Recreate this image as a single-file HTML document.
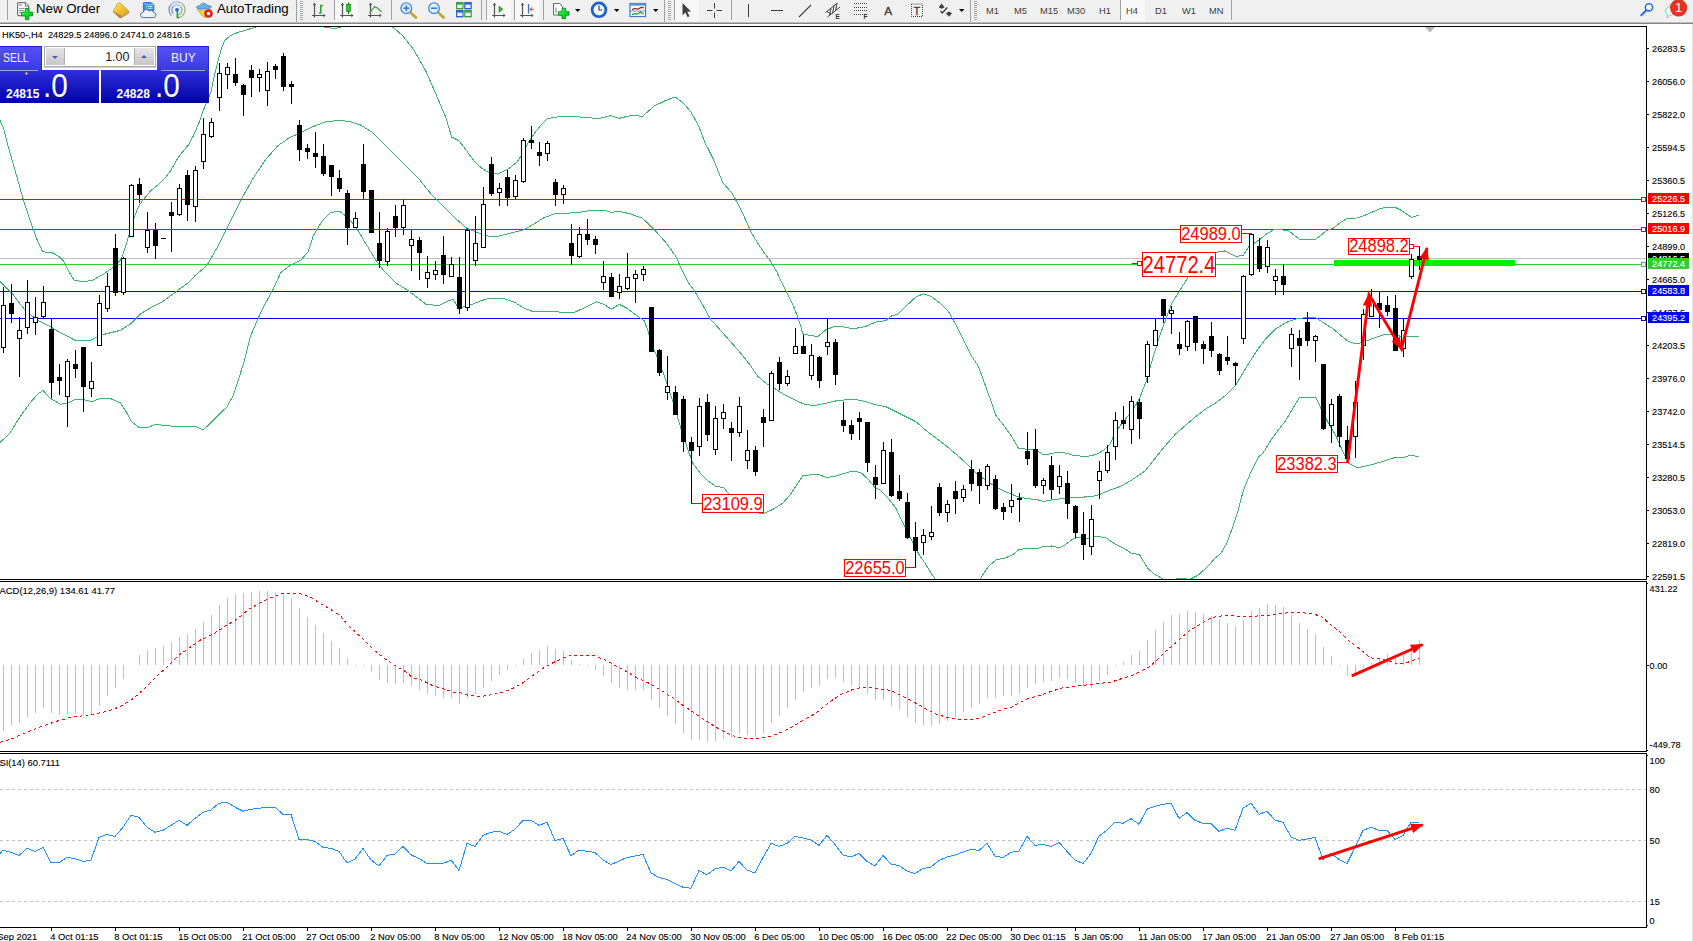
<!DOCTYPE html>
<html><head><meta charset="utf-8"><title>HK50 H4</title>
<style>
html,body{margin:0;padding:0;background:#fff;}
body{width:1693px;height:941px;overflow:hidden;position:relative;font-family:"Liberation Sans", sans-serif;}
#tb{position:absolute;left:0;top:0;width:1693px;height:22px;background:#f0f0f0;}
#tb1{position:absolute;left:0;top:22px;width:1693px;height:1px;background:#bdbdbd;}
#tb2{position:absolute;left:0;top:23px;width:1693px;height:1px;background:#858585;}
.tt{position:absolute;top:-1.2px;height:22px;line-height:20px;font-size:12.4px;color:#000;white-space:nowrap;transform-origin:0 50%;}
.tf{position:absolute;top:1.7px;height:18px;line-height:18px;font-size:9.6px;color:#3c3c3c;white-space:nowrap;transform-origin:0 50%;transform:scaleX(0.97);}
svg{position:absolute;left:0;top:0;}
svg text{font-family:"Liberation Sans", sans-serif;}
#tp{position:absolute;left:0;top:46px;width:209px;height:57px;}
.btn{position:absolute;top:0;height:24px;box-sizing:border-box;border-top:1px solid #2020cc;border-right:1px solid #2828d0;background:linear-gradient(#5252f6,#3a3ae2);color:#f4f4ff;font-size:12px;line-height:22.4px;}
.px{position:absolute;top:24px;height:33px;background:linear-gradient(#3030dc,#0000a8);color:#fff;}
.px b{position:absolute;font-size:12px;top:17px;line-height:14px;}
.px i{position:absolute;font-style:normal;font-size:33px;line-height:33px;top:-0.8px;transform-origin:0 0;transform:scaleX(0.9);}
</style></head><body>
<div id="tb"></div><div id="tb1"></div><div id="tb2"></div>
<svg id="tbsvg" width="1693" height="24" viewBox="0 0 1693 24">
<rect x="7" y="0" width="1" height="20" fill="#a0a0a0"/>
<path d="M18.6 2.6h6.7l3.4 3.4v8.6a1 1 0 0 1-1 1h-9.1a1 1 0 0 1-1-1v-11a1 1 0 0 1 1-1z" fill="#fff" stroke="#737373" stroke-width="1.2"/>
<path d="M25.3 2.6v3.4h3.4" fill="#eee" stroke="#737373" stroke-width="1"/>
<rect x="19.1" y="4.3" width="2.7" height="1.4" fill="#8c8c8c"/>
<path d="M19.1 8.4h5.6M19.1 10.5h4.5M19.1 12.5h2.5" stroke="#8c8c8c" stroke-width="1"/>
<defs><linearGradient id="gp" x1="0" y1="0" x2="1" y2="1"><stop offset="0" stop-color="#5cff7a"/><stop offset="0.5" stop-color="#08e42a"/><stop offset="1" stop-color="#04b81c"/></linearGradient></defs>
<path d="M25.4 8.5h3.5v3.7h3.8v3.6h-3.8v3.8h-3.5v-3.8h-3.9v-3.6h3.9z" fill="url(#gp)" stroke="#0a8a12" stroke-width="0.9"/>
<defs><linearGradient id="gb" x1="0" y1="0" x2="1" y2="1"><stop offset="0" stop-color="#fbe27a"/><stop offset="0.5" stop-color="#f2c230"/><stop offset="1" stop-color="#d9a21e"/></linearGradient></defs>
<path d="M113.2 11.6l4.4-8 2.6-0.7 8.6 8.4-0.2 1.6-7.6 5-1.6-0.4z" fill="#b9801c" stroke="#9a6a14" stroke-width="0.7" stroke-linejoin="round"/>
<path d="M113.3 11.3l4.4-7.8 2.4-0.6 8.4 8-7.2 4.8z" fill="url(#gb)"/>
<path d="M121.3 16.2l7.2-4.8M121.2 17.2l7.4-4.9" stroke="#e9d9a8" stroke-width="0.5"/>
<path d="M143.4 2.6h7.2l3.3 2v6h-10.5z" fill="#2f8fee" stroke="#1c62c4" stroke-width="0.8"/>
<path d="M143.4 2.6l3 2v6M146.4 4.6h7.5" fill="none" stroke="#9fd0ff" stroke-width="0.8"/>
<path d="M148 6.5h4.5M148 8.3h4.5" stroke="#e4f2ff" stroke-width="0.9"/>
<path d="M143.3 17.6a2.6 2.6 0 0 1-0.2-5.2a3.4 3.4 0 0 1 6.2-1.4a2.6 2.6 0 0 1 4.2 1.2a2.8 2.8 0 0 1 0.6 5.4z" fill="#eef2fa" stroke="#44609e" stroke-width="0.9"/>
<path d="M171.4 15.6a8 8 0 0 1 0-11.4M173.4 13.6a5.2 5.2 0 0 1 0-7.4" fill="none" stroke="#5a86d6" stroke-width="1.1"/>
<path d="M171.4 4.2a8 8 0 0 1 11.2 0M173.6 6.2a5 5 0 0 1 6.8 0" fill="none" stroke="#9db8d8" stroke-width="1.1"/>
<path d="M182.6 4.2a8 8 0 0 1-5 13.6M180.4 6.2a5.2 5.2 0 0 1-2.6 8.8" fill="none" stroke="#86b886" stroke-width="1.2"/>
<circle cx="177" cy="9.8" r="1.9" fill="#2a5fd0"/>
<path d="M177.3 10v7.6h2" fill="none" stroke="#22a022" stroke-width="1.5"/>
<path d="M197.2 9.5l6.6 1.6 6.4-2-1.8 6.2-3.2 2.4-3.4-2.2z" fill="#f6d34a" stroke="#c9a02c" stroke-width="0.7"/>
<path d="M196.2 7.4c0.6-1.6 3.2-1.6 4-2.2 0.6-2.6 5.6-2.8 6.4-0.2 1.6 0.6 4.4 0.4 5 2-1 2-13.6 3.4-15.4 0.4z" fill="#69aee3" stroke="#3f82bd" stroke-width="0.7"/>
<circle cx="208.5" cy="13.6" r="4" fill="#e02814" stroke="#b01c0c" stroke-width="0.5"/>
<rect x="207" y="12.1" width="3" height="3" fill="#fff"/>
<rect x="296" y="0" width="1" height="22" fill="#a0a0a0"/>
<rect x="300" y="1" width="3" height="1" fill="#a8a8a8"/>
<rect x="300" y="3" width="3" height="1" fill="#a8a8a8"/>
<rect x="300" y="5" width="3" height="1" fill="#a8a8a8"/>
<rect x="300" y="7" width="3" height="1" fill="#a8a8a8"/>
<rect x="300" y="9" width="3" height="1" fill="#a8a8a8"/>
<rect x="300" y="11" width="3" height="1" fill="#a8a8a8"/>
<rect x="300" y="13" width="3" height="1" fill="#a8a8a8"/>
<rect x="300" y="15" width="3" height="1" fill="#a8a8a8"/>
<rect x="300" y="17" width="3" height="1" fill="#a8a8a8"/>
<rect x="300" y="19" width="3" height="1" fill="#a8a8a8"/>
<path d="M314.5 3v14.5M312 15.5h13" stroke="#555" stroke-width="1.2" fill="none"/>
<path d="M312.8 5.2l1.7-2.4 1.7 2.4zM323.3 13.8l2.4 1.7-2.4 1.7z" fill="#555"/>
<path d="M319 13h1.8v-7.5h2" stroke="#1f9a1f" stroke-width="1.4" fill="none"/>
<rect x="334" y="0" width="1" height="20" fill="#a0a0a0"/>
<rect x="335" y="0" width="23" height="21" fill="#f8f8f8"/>
<path d="M342.5 3v14.5M340 15.5h13" stroke="#555" stroke-width="1.2" fill="none"/>
<path d="M340.8 5.2l1.7-2.4 1.7 2.4zM351.3 13.8l2.4 1.7-2.4 1.7z" fill="#555"/>
<path d="M348.5 2.5v11.5" stroke="#0a7a0a" stroke-width="1"/><rect x="346.7" y="4.3" width="3.6" height="7" fill="#30d030" stroke="#0a7a0a" stroke-width="0.8"/>
<path d="M370.5 3v14.5M368 15.5h13" stroke="#555" stroke-width="1.2" fill="none"/>
<path d="M368.8 5.2l1.7-2.4 1.7 2.4zM379.3 13.8l2.4 1.7-2.4 1.7z" fill="#555"/>
<path d="M369.5 13l5-6.3 3 1.2 4 4.3" stroke="#2f9a2f" stroke-width="1.2" fill="none"/>
<rect x="391" y="0" width="1" height="20" fill="#a0a0a0"/>
<path d="M409.90000000000003 12l6 5.5" stroke="#c9a227" stroke-width="2.6" stroke-linecap="round"/>
<circle cx="406.3" cy="8.2" r="5.3" fill="#dff0ff" stroke="#4a8fd8" stroke-width="1.4"/>
<path d="M403.3 8.2h6" stroke="#2f7fd0" stroke-width="1.6"/>
<path d="M406.3 5.2v6" stroke="#2f7fd0" stroke-width="1.6"/>
<path d="M437.6 12l6 5.5" stroke="#c9a227" stroke-width="2.6" stroke-linecap="round"/>
<circle cx="434" cy="8.2" r="5.3" fill="#dff0ff" stroke="#4a8fd8" stroke-width="1.4"/>
<path d="M431 8.2h6" stroke="#2f7fd0" stroke-width="1.6"/>
<rect x="456" y="2" width="7.6" height="7.4" fill="#3aa23a"/>
<rect x="457.2" y="4.6" width="5.2" height="3.4" fill="#e8f0ff"/>
<rect x="464.2" y="2" width="7.6" height="7.4" fill="#2f5fd0"/>
<rect x="465.4" y="4.6" width="5.2" height="3.4" fill="#e8f0ff"/>
<rect x="456" y="10" width="7.6" height="7.4" fill="#2f5fd0"/>
<rect x="457.2" y="12.6" width="5.2" height="3.4" fill="#e8f0ff"/>
<rect x="464.2" y="10" width="7.6" height="7.4" fill="#3aa23a"/>
<rect x="465.4" y="12.6" width="5.2" height="3.4" fill="#e8f0ff"/>
<rect x="481" y="0" width="1" height="20" fill="#a0a0a0"/>
<rect x="486" y="0" width="1" height="20" fill="#a0a0a0"/>
<rect x="487" y="0" width="24" height="21" fill="#f8f8f8"/>
<path d="M494.5 3v14.5M492 15.5h13" stroke="#555" stroke-width="1.2" fill="none"/>
<path d="M492.8 5.2l1.7-2.4 1.7 2.4zM503.3 13.8l2.4 1.7-2.4 1.7z" fill="#555"/>
<path d="M499 6l3.8 3.2-3.8 3.2z" fill="#2fb52f" stroke="#178a17" stroke-width="0.6"/>
<rect x="514" y="0" width="1" height="20" fill="#a0a0a0"/>
<rect x="515" y="0" width="24" height="21" fill="#f8f8f8"/>
<path d="M522.5 3v14.5M520 15.5h13" stroke="#555" stroke-width="1.2" fill="none"/>
<path d="M520.8 5.2l1.7-2.4 1.7 2.4zM531.3 13.8l2.4 1.7-2.4 1.7z" fill="#555"/>
<path d="M528.5 4v9.5" stroke="#2f6fd0" stroke-width="1.2"/><path d="M534 9.3h-4M531.8 7.5l-2 1.8 2 1.8" stroke="#d04020" stroke-width="1" fill="none"/>
<rect x="543" y="0" width="1" height="20" fill="#a0a0a0"/>
<path d="M553.5 3.5h6l3 3v8.5h-9z" fill="#fff" stroke="#6a6a6a" stroke-width="1"/>
<path d="M556 7.5v5.5" stroke="#777" stroke-width="1"/>
<path d="M562 8.3h3.5v3.4h3.5v3.5h-3.5v3.5h-3.5v-3.5h-3.5v-3.5h3.5z" fill="url(#gp)" stroke="#0a8a12" stroke-width="0.9"/>
<path d="M575 9h5.4l-2.7 3z" fill="#000"/>
<circle cx="599" cy="9.8" r="6.9" fill="#f4f8ff" stroke="#1b62cf" stroke-width="2.8"/>
<path d="M599 5.5v4.5h3.2" stroke="#444" stroke-width="1.2" fill="none"/>
<path d="M614 9h5.4l-2.7 3z" fill="#000"/>
<rect x="630" y="3.5" width="15.5" height="13" fill="#fff" stroke="#3f77c8" stroke-width="1.2"/>
<rect x="630" y="3.3" width="15.5" height="2.4" fill="#5a93dd"/>
<path d="M630 11h15.5" stroke="#3f77c8" stroke-width="0.8"/>
<path d="M632 9.6l3-1.2 3 0.6 3-1.6 3 0.4" stroke="#b02020" stroke-width="1.2" fill="none"/>
<path d="M632 14.6l3-1 2.5 0.6 3-2.2 3 2" stroke="#1f9a1f" stroke-width="1.2" fill="none"/>
<path d="M653 9h5.4l-2.7 3z" fill="#000"/>
<rect x="664" y="0" width="1" height="22" fill="#a0a0a0"/>
<rect x="668" y="1" width="3" height="1" fill="#a8a8a8"/>
<rect x="668" y="3" width="3" height="1" fill="#a8a8a8"/>
<rect x="668" y="5" width="3" height="1" fill="#a8a8a8"/>
<rect x="668" y="7" width="3" height="1" fill="#a8a8a8"/>
<rect x="668" y="9" width="3" height="1" fill="#a8a8a8"/>
<rect x="668" y="11" width="3" height="1" fill="#a8a8a8"/>
<rect x="668" y="13" width="3" height="1" fill="#a8a8a8"/>
<rect x="668" y="15" width="3" height="1" fill="#a8a8a8"/>
<rect x="668" y="17" width="3" height="1" fill="#a8a8a8"/>
<rect x="668" y="19" width="3" height="1" fill="#a8a8a8"/>
<rect x="674" y="0" width="1" height="20" fill="#a0a0a0"/>
<rect x="675" y="0" width="24" height="21" fill="#f8f8f8"/>
<path d="M682.5 3v12.2l2.9-2.6 2.2 4.6 1.9-0.9-2.2-4.5 3.7-0.3z" fill="#404040"/>
<path d="M714.5 3v5.5M714.5 12.5v5.5M707 10.5h5.5M716.5 10.5h5.5" stroke="#404040" stroke-width="1"/>
<rect x="731" y="0" width="1" height="20" fill="#a0a0a0"/>
<path d="M748.5 4v13" stroke="#404040" stroke-width="1"/>
<path d="M771 10.5h12" stroke="#404040" stroke-width="1"/>
<path d="M799 17l12-12" stroke="#404040" stroke-width="1.1"/>
<path d="M825.5 12.5l12-9.5M827.5 17l12.5-10M829.5 15.5l1.5-7M832.5 13.5l1.5-7.5M835.5 11l1.5-7.5M827 11.5l4 2.5" stroke="#404040" stroke-width="1" fill="none"/>
<text x="835.6" y="18.6" font-size="6.5" font-weight="bold" fill="#303030">E</text>
<path d="M854 3.5h13" stroke="#404040" stroke-width="1" stroke-dasharray="1 1"/>
<path d="M854 7.5h13" stroke="#404040" stroke-width="1" stroke-dasharray="1 1"/>
<path d="M854 10.5h13" stroke="#404040" stroke-width="1" stroke-dasharray="1 1"/>
<path d="M854 14.5h13" stroke="#404040" stroke-width="1" stroke-dasharray="1 1"/>
<text x="863.5" y="18.8" font-size="6.5" font-weight="bold" fill="#303030">F</text>
<text x="884.3" y="14.9" font-size="11.8" fill="#404040" stroke="#404040" stroke-width="0.35">A</text>
<rect x="911.5" y="4" width="11" height="12.5" fill="none" stroke="#404040" stroke-width="1" stroke-dasharray="1 1"/>
<text x="913.6" y="15" font-size="11" fill="#404040" stroke="#404040" stroke-width="0.3">T</text>
<path d="M938.6 7.2l3-3.6 3 3.6-3 1.6zM946 13.2l3 3.6 3-3.6-3-1.6z" fill="#404040"/>
<path d="M940.5 11l1.8 2 5-5.5" stroke="#404040" stroke-width="1.4" fill="none"/>
<path d="M959 9h5.4l-2.7 3z" fill="#000"/>
<rect x="970" y="0" width="1" height="22" fill="#a0a0a0"/>
<rect x="974" y="1" width="3" height="1" fill="#a8a8a8"/>
<rect x="974" y="3" width="3" height="1" fill="#a8a8a8"/>
<rect x="974" y="5" width="3" height="1" fill="#a8a8a8"/>
<rect x="974" y="7" width="3" height="1" fill="#a8a8a8"/>
<rect x="974" y="9" width="3" height="1" fill="#a8a8a8"/>
<rect x="974" y="11" width="3" height="1" fill="#a8a8a8"/>
<rect x="974" y="13" width="3" height="1" fill="#a8a8a8"/>
<rect x="974" y="15" width="3" height="1" fill="#a8a8a8"/>
<rect x="974" y="17" width="3" height="1" fill="#a8a8a8"/>
<rect x="974" y="19" width="3" height="1" fill="#a8a8a8"/>
<rect x="1120" y="0" width="1" height="20" fill="#a0a0a0"/>
<rect x="1121" y="0" width="24" height="21" fill="#f8f8f8"/>
<rect x="1231" y="0" width="1" height="20" fill="#a0a0a0"/>
<circle cx="1649" cy="7.3" r="3.6" fill="#fff" stroke="#2f6fd8" stroke-width="1.6"/>
<path d="M1646.3 10.2l-5 5" stroke="#2f6fd8" stroke-width="2" stroke-linecap="round"/>
<path d="M1665.5 11a5.5 4.2 0 0 1 11 0a5.5 4.2 0 0 1-7 4l-2.5 3 0.4-3.6a5 4 0 0 1-1.9-3.4z" fill="#f4f4f4" stroke="#a8a8a8" stroke-width="0.8"/>
<circle cx="1678.6" cy="7.8" r="8.6" fill="#df3620"/>
<text x="1675" y="12.4" font-size="13" fill="#fff">1</text>
</svg>
<div class="tt" style="left:36.3px;transform:scaleX(1.07)">New Order</div>
<div class="tt" style="left:217px;transform:scaleX(1.07)">AutoTrading</div>
<div class="tf" style="left:985.5px">M1</div>
<div class="tf" style="left:1013.8px">M5</div>
<div class="tf" style="left:1039.6px">M15</div>
<div class="tf" style="left:1067.3px">M30</div>
<div class="tf" style="left:1098.6px">H1</div>
<div class="tf" style="left:1125.6px">H4</div>
<div class="tf" style="left:1154.7px">D1</div>
<div class="tf" style="left:1182.4px">W1</div>
<div class="tf" style="left:1208.7px">MN</div>
<svg id="ch" width="1693" height="941" viewBox="0 0 1693 941" shape-rendering="crispEdges">
<defs><clipPath id="cm"><rect x="0" y="27" width="1646" height="552"/></clipPath>
<clipPath id="c2"><rect x="0" y="582" width="1646" height="169"/></clipPath>
<clipPath id="c3"><rect x="0" y="754" width="1646" height="173"/></clipPath></defs>
<rect x="1692" y="24" width="1" height="917" fill="#e3e3e3"/>
<rect x="0" y="26" width="1647" height="1" fill="#000"/>
<rect x="0" y="579" width="1647" height="1" fill="#000"/>
<rect x="0" y="581" width="1647" height="1" fill="#000"/>
<rect x="0" y="751" width="1647" height="1" fill="#000"/>
<rect x="0" y="753" width="1647" height="1" fill="#000"/>
<rect x="0" y="927" width="1647" height="1" fill="#000"/>
<rect x="1646" y="26" width="1" height="554" fill="#000"/>
<rect x="1646" y="581" width="1" height="171" fill="#000"/>
<rect x="1646" y="753" width="1" height="175" fill="#000"/>
<g clip-path="url(#cm)">
<rect x="0" y="199" width="1646" height="1" fill="#ff0000"/>
<rect x="0" y="229" width="1646" height="1" fill="#ff0000"/>
<rect x="0" y="258" width="1646" height="1" fill="#c0c0c0"/>
<rect x="0" y="264" width="1646" height="1" fill="#32cd32"/>
<rect x="0" y="291" width="1646" height="1" fill="#0000ff"/>
<rect x="0" y="318" width="1646" height="1" fill="#0000ff"/>
<rect x="1334" y="260" width="181" height="6" fill="#00f000"/>
<polyline points="0.0,120.4 3.6,128.4 7.1,142.6 10.7,155.0 14.2,167.5 17.8,179.9 22.2,195.9 26.6,210.0 32.0,226.0 37.3,240.2 42.6,251.8 51.5,252.5 58.6,256.2 63.9,261.5 68.0,270.0 73.9,280.0 81.3,281.6 91.6,280.7 103.4,274.2 113.8,266.8 121.2,259.4 127.0,241.7 134.9,215.4 138.5,206.5 142.0,201.2 150.9,190.5 159.8,183.4 165.1,178.1 170.4,171.0 177.5,158.6 182.9,151.5 188.2,145.3 193.5,135.5 198.8,123.1 204.2,108.0 206.9,102.0 211.0,92.0 214.6,74.6 218.3,59.7 221.5,48.5 224.7,40.5 230.7,35.4 238.0,32.4 248.0,29.4 255.5,27.4 275.0,18.0 300.0,20.0 320.0,26.5 335.0,28.5 348.0,25.0 370.0,18.0 391.5,26.0 401.9,34.9 413.7,49.6 425.5,70.3 435.9,94.0 443.3,111.7 446.2,118.3 449.8,130.7 451.5,137.0 458.6,140.5 463.1,145.8 467.5,152.0 472.0,158.3 476.4,163.6 482.6,168.9 488.8,172.5 497.7,174.2 508.4,168.9 517.2,161.8 522.6,153.8 527.9,143.2 535.0,132.5 542.1,123.6 547.4,118.7 559.8,116.5 574.0,116.5 591.5,118.0 600.0,118.4 610.6,115.5 618.9,118.4 630.7,115.5 642.5,116.2 654.3,106.0 666.2,100.2 675.1,97.0 682.7,102.5 691.0,112.0 699.2,127.3 705.0,142.7 713.4,159.2 722.9,182.9 732.3,193.5 741.8,211.2 751.2,232.5 760.7,247.8 770.1,260.8 777.2,272.6 781.4,282.0 785.4,290.0 793.0,305.0 798.0,317.6 803.0,333.9 810.5,335.6 818.0,336.4 825.6,330.0 833.0,327.0 840.6,326.4 853.0,328.9 865.7,326.4 875.7,322.0 885.7,320.6 890.7,316.3 898.3,313.8 905.8,306.3 915.8,297.0 923.4,293.8 930.9,296.3 940.9,303.8 948.4,311.3 956.0,325.0 963.5,340.0 971.0,355.2 978.5,366.5 983.5,380.3 989.8,397.8 996.0,415.4 1003.6,425.4 1011.0,435.4 1018.6,448.5 1027.4,449.2 1035.0,449.2 1043.7,455.0 1053.8,453.0 1062.9,452.3 1072.3,455.0 1080.0,456.0 1089.4,456.0 1096.9,454.2 1104.5,449.5 1110.0,443.8 1114.0,435.6 1120.2,425.5 1132.7,410.5 1140.2,396.7 1146.5,380.4 1152.8,357.8 1160.3,334.0 1165.7,320.0 1171.3,304.0 1178.9,292.0 1188.4,276.6 1200.0,262.0 1215.8,252.4 1224.3,250.9 1230.0,253.4 1235.7,256.6 1243.2,255.2 1248.9,246.7 1254.6,243.0 1260.2,239.2 1265.9,234.4 1273.5,229.7 1281.0,229.7 1288.6,230.7 1294.3,235.4 1300.0,239.6 1307.5,239.6 1315.0,239.6 1320.8,235.4 1326.4,230.7 1334.0,227.8 1339.7,223.0 1347.2,218.4 1356.7,218.0 1364.3,215.5 1371.8,212.3 1379.4,209.0 1387.0,207.0 1394.5,207.0 1400.2,209.9 1405.9,213.6 1411.5,217.4 1419.0,215.0" fill="none" stroke="#3cb371" stroke-width="1" />
<polyline points="0.0,281.4 12.5,294.0 25.0,310.2 37.6,320.3 50.0,326.5 62.7,334.0 75.2,340.3 90.3,340.3 100.3,335.3 110.3,332.8 120.4,330.3 130.4,324.0 140.4,314.0 150.5,307.7 163.0,301.5 175.5,292.0 188.0,283.0 195.0,275.7 206.9,265.4 218.7,244.7 230.5,221.0 242.3,197.4 254.1,176.7 266.0,159.0 277.8,145.7 289.6,137.7 301.4,132.4 313.2,126.5 325.0,122.0 336.9,120.6 348.7,121.2 360.5,125.0 372.3,132.4 384.2,144.2 396.0,156.0 407.8,167.8 419.6,179.7 431.4,194.4 443.3,206.3 455.0,218.0 466.9,228.4 478.7,232.9 488.7,236.1 498.7,236.1 511.3,232.9 523.8,229.9 533.9,224.0 543.9,217.8 553.9,214.0 566.5,213.3 579.0,212.3 591.5,210.3 604.0,210.3 611.8,212.4 618.9,211.2 630.7,214.0 642.5,218.3 654.3,229.6 666.2,243.0 675.6,256.0 682.7,271.5 687.9,282.0 694.0,290.0 702.7,305.0 710.2,318.8 720.2,330.0 730.3,341.4 740.3,352.7 750.3,365.2 757.9,376.5 765.4,382.8 775.4,389.0 785.4,395.3 795.5,400.3 805.5,404.8 815.5,405.3 825.6,403.3 835.6,401.0 845.6,399.8 855.6,399.6 865.7,401.6 875.7,404.8 885.7,406.6 895.8,411.6 905.8,416.6 915.8,421.6 925.9,430.4 935.9,438.0 945.9,445.5 956.0,454.2 966.0,463.0 976.0,473.0 986.0,480.6 996.0,486.8 1006.0,491.9 1016.0,496.0 1026.2,498.6 1036.2,499.4 1043.7,501.4 1053.8,499.4 1064.0,498.6 1078.0,497.3 1091.3,496.7 1098.8,494.8 1110.0,490.0 1121.4,486.0 1132.7,479.4 1145.3,470.7 1155.3,458.0 1165.3,445.6 1175.3,434.3 1185.4,425.5 1195.4,416.8 1205.4,409.2 1215.5,403.0 1225.5,395.4 1235.5,385.4 1243.0,372.9 1250.6,360.3 1258.0,349.0 1265.6,339.0 1275.6,329.0 1285.7,322.7 1295.7,319.0 1305.7,317.7 1315.8,317.7 1323.3,322.7 1333.3,329.0 1340.8,335.3 1348.4,341.5 1355.9,344.0 1363.4,342.3 1371.0,339.0 1378.5,336.5 1386.0,334.0 1393.5,334.0 1403.5,337.3 1411.0,336.5 1419.0,336.5" fill="none" stroke="#3cb371" stroke-width="1" />
<polyline points="0.0,442.6 10.0,433.0 20.0,416.8 30.0,403.0 37.6,394.2 43.0,390.5 50.0,398.0 60.2,404.3 67.7,403.0 75.2,399.3 82.7,399.3 91.5,401.8 100.3,398.5 110.3,398.5 120.4,403.0 125.4,410.5 131.6,421.8 139.2,427.6 146.7,428.0 155.5,424.3 165.5,425.6 175.5,426.3 185.6,426.3 195.6,426.3 203.0,430.0 210.6,423.0 218.0,415.6 227.0,406.8 233.2,395.5 238.2,380.5 244.5,360.4 250.8,335.3 259.5,315.3 265.8,302.7 273.3,288.9 280.8,272.6 290.9,265.0 300.9,260.0 308.4,251.3 313.2,235.8 322.1,221.0 331.0,212.2 339.8,211.6 348.7,218.0 357.6,229.9 366.4,244.7 375.3,259.4 384.2,271.3 396.0,283.0 407.8,290.5 416.0,296.5 426.0,304.3 438.6,305.6 448.6,300.6 453.0,299.5 458.6,308.0 468.7,305.6 481.2,300.6 491.2,298.0 503.8,298.6 513.8,301.8 523.8,308.0 533.9,311.9 551.4,311.4 566.5,312.6 574.0,312.6 586.5,306.8 596.5,301.8 604.0,304.3 611.6,309.3 619.0,304.3 626.6,308.0 636.7,315.6 644.2,320.6 648.0,330.7 651.3,343.9 657.6,357.7 665.0,377.8 672.6,400.3 680.0,425.4 686.4,445.5 692.7,463.0 700.2,473.0 707.7,480.6 715.2,486.0 724.0,488.0 728.0,493.0 740.0,503.0 755.3,512.0 762.9,514.0 772.9,509.4 783.0,503.0 790.5,494.4 798.0,483.0 803.0,475.6 810.5,474.8 818.0,474.3 826.8,477.6 835.6,476.0 845.6,473.0 853.0,471.0 860.7,472.5 868.2,479.3 874.5,487.0 880.7,490.6 888.2,498.0 895.8,508.0 902.0,521.3 907.8,532.7 913.5,544.0 919.0,554.4 924.8,563.0 930.5,572.4 935.2,579.0 945.0,592.0 970.0,592.0 980.2,579.0 984.4,572.4 989.0,565.8 996.7,559.5 1004.3,558.2 1011.8,555.4 1019.4,549.3 1027.0,548.7 1036.4,548.7 1044.0,546.3 1051.5,546.0 1059.0,547.8 1064.8,545.0 1072.3,539.3 1078.0,537.4 1085.6,538.7 1096.0,536.5 1105.4,537.4 1114.8,544.0 1124.3,548.7 1131.9,553.5 1139.4,554.4 1143.2,561.0 1148.0,568.6 1154.6,574.3 1163.0,579.0 1170.0,581.0 1177.0,578.6 1184.0,578.6 1189.6,579.4 1198.0,575.2 1207.5,566.7 1215.0,558.2 1220.8,553.5 1226.4,544.0 1232.0,528.9 1237.8,511.9 1241.6,496.7 1245.3,485.4 1251.0,472.0 1258.6,457.0 1263.0,453.0 1270.6,440.6 1278.0,430.5 1285.7,420.5 1293.2,408.0 1299.5,397.4 1315.8,397.4 1320.8,408.0 1328.3,423.0 1335.8,435.6 1343.4,453.0 1348.4,463.0 1357.0,467.7 1368.4,465.6 1381.0,461.9 1393.5,458.0 1403.5,457.6 1411.0,455.0 1419.0,456.9" fill="none" stroke="#3cb371" stroke-width="1" />
<rect x="1641.5" y="197.5" width="4" height="4" fill="#fff" stroke="#ff0000" stroke-width="1"/>
<rect x="1641.5" y="227.5" width="4" height="4" fill="#fff" stroke="#ff0000" stroke-width="1"/>
<rect x="1641.5" y="262.5" width="4" height="4" fill="#fff" stroke="#32cd32" stroke-width="1"/>
<rect x="1641.5" y="289.5" width="4" height="4" fill="#fff" stroke="#0000ff" stroke-width="1"/>
<rect x="1641.5" y="316.5" width="4" height="4" fill="#fff" stroke="#0000ff" stroke-width="1"/>
<rect x="3" y="287" width="1" height="66" fill="#000"/>
<rect x="1" y="305" width="5" height="43" fill="#000"/>
<rect x="2" y="306" width="3" height="41" fill="#fff"/>
<rect x="11" y="284" width="1" height="39" fill="#000"/>
<rect x="9" y="303" width="5" height="11" fill="#000"/>
<rect x="19" y="317" width="1" height="60" fill="#000"/>
<rect x="17" y="330" width="5" height="9" fill="#000"/>
<rect x="18" y="331" width="3" height="7" fill="#fff"/>
<rect x="27" y="280" width="1" height="54" fill="#000"/>
<rect x="25" y="302" width="5" height="26" fill="#000"/>
<rect x="26" y="303" width="3" height="24" fill="#fff"/>
<rect x="35" y="297" width="1" height="38" fill="#000"/>
<rect x="33" y="317" width="5" height="6" fill="#000"/>
<rect x="34" y="318" width="3" height="4" fill="#fff"/>
<rect x="43" y="286" width="1" height="32" fill="#000"/>
<rect x="41" y="302" width="5" height="15" fill="#000"/>
<rect x="42" y="303" width="3" height="13" fill="#fff"/>
<rect x="51" y="318" width="1" height="80" fill="#000"/>
<rect x="49" y="329" width="5" height="54" fill="#000"/>
<rect x="59" y="364" width="1" height="31" fill="#000"/>
<rect x="57" y="377" width="5" height="4" fill="#000"/>
<rect x="67" y="359" width="1" height="68" fill="#000"/>
<rect x="65" y="361" width="5" height="36" fill="#000"/>
<rect x="66" y="362" width="3" height="34" fill="#fff"/>
<rect x="75" y="350" width="1" height="28" fill="#000"/>
<rect x="73" y="364" width="5" height="5" fill="#000"/>
<rect x="83" y="347" width="1" height="65" fill="#000"/>
<rect x="81" y="347" width="5" height="40" fill="#000"/>
<rect x="91" y="362" width="1" height="35" fill="#000"/>
<rect x="89" y="381" width="5" height="8" fill="#000"/>
<rect x="90" y="382" width="3" height="6" fill="#fff"/>
<rect x="99" y="295" width="1" height="50" fill="#000"/>
<rect x="97" y="303" width="5" height="43" fill="#000"/>
<rect x="98" y="304" width="3" height="41" fill="#fff"/>
<rect x="107" y="273" width="1" height="39" fill="#000"/>
<rect x="105" y="286" width="5" height="23" fill="#000"/>
<rect x="106" y="287" width="3" height="21" fill="#fff"/>
<rect x="115" y="234" width="1" height="62" fill="#000"/>
<rect x="113" y="248" width="5" height="45" fill="#000"/>
<rect x="123" y="257" width="1" height="38" fill="#000"/>
<rect x="121" y="258" width="5" height="35" fill="#000"/>
<rect x="122" y="259" width="3" height="33" fill="#fff"/>
<rect x="131" y="184" width="1" height="52" fill="#000"/>
<rect x="129" y="185" width="5" height="52" fill="#000"/>
<rect x="130" y="186" width="3" height="50" fill="#fff"/>
<rect x="139" y="178" width="1" height="25" fill="#000"/>
<rect x="137" y="184" width="5" height="11" fill="#000"/>
<rect x="147" y="212" width="1" height="41" fill="#000"/>
<rect x="145" y="230" width="5" height="18" fill="#000"/>
<rect x="146" y="231" width="3" height="16" fill="#fff"/>
<rect x="155" y="223" width="1" height="36" fill="#000"/>
<rect x="153" y="230" width="5" height="16" fill="#000"/>
<rect x="161" y="238" width="5" height="1" fill="#000"/>
<rect x="171" y="202" width="1" height="50" fill="#000"/>
<rect x="169" y="212" width="5" height="4" fill="#000"/>
<rect x="179" y="184" width="1" height="32" fill="#000"/>
<rect x="177" y="188" width="5" height="27" fill="#000"/>
<rect x="178" y="189" width="3" height="25" fill="#fff"/>
<rect x="187" y="170" width="1" height="51" fill="#000"/>
<rect x="185" y="175" width="5" height="30" fill="#000"/>
<rect x="195" y="166" width="1" height="56" fill="#000"/>
<rect x="193" y="170" width="5" height="37" fill="#000"/>
<rect x="194" y="171" width="3" height="35" fill="#fff"/>
<rect x="203" y="118" width="1" height="51" fill="#000"/>
<rect x="201" y="134" width="5" height="28" fill="#000"/>
<rect x="202" y="135" width="3" height="26" fill="#fff"/>
<rect x="211" y="118" width="1" height="20" fill="#000"/>
<rect x="209" y="122" width="5" height="15" fill="#000"/>
<rect x="210" y="123" width="3" height="13" fill="#fff"/>
<rect x="219" y="63" width="1" height="48" fill="#000"/>
<rect x="217" y="73" width="5" height="25" fill="#000"/>
<rect x="218" y="74" width="3" height="23" fill="#fff"/>
<rect x="227" y="63" width="1" height="26" fill="#000"/>
<rect x="225" y="67" width="5" height="8" fill="#000"/>
<rect x="226" y="68" width="3" height="6" fill="#fff"/>
<rect x="235" y="58" width="1" height="28" fill="#000"/>
<rect x="233" y="74" width="5" height="9" fill="#000"/>
<rect x="243" y="84" width="1" height="32" fill="#000"/>
<rect x="241" y="85" width="5" height="10" fill="#000"/>
<rect x="251" y="65" width="1" height="32" fill="#000"/>
<rect x="249" y="70" width="5" height="8" fill="#000"/>
<rect x="259" y="69" width="1" height="23" fill="#000"/>
<rect x="257" y="74" width="5" height="4" fill="#000"/>
<rect x="258" y="75" width="3" height="2" fill="#fff"/>
<rect x="267" y="62" width="1" height="44" fill="#000"/>
<rect x="265" y="71" width="5" height="20" fill="#000"/>
<rect x="266" y="72" width="3" height="18" fill="#fff"/>
<rect x="275" y="64" width="1" height="15" fill="#000"/>
<rect x="273" y="66" width="5" height="4" fill="#000"/>
<rect x="283" y="53" width="1" height="38" fill="#000"/>
<rect x="281" y="56" width="5" height="31" fill="#000"/>
<rect x="291" y="81" width="1" height="23" fill="#000"/>
<rect x="289" y="84" width="5" height="3" fill="#000"/>
<rect x="299" y="120" width="1" height="41" fill="#000"/>
<rect x="297" y="125" width="5" height="25" fill="#000"/>
<rect x="307" y="144" width="1" height="15" fill="#000"/>
<rect x="305" y="148" width="5" height="4" fill="#000"/>
<rect x="315" y="132" width="1" height="36" fill="#000"/>
<rect x="313" y="153" width="5" height="4" fill="#000"/>
<rect x="323" y="144" width="1" height="32" fill="#000"/>
<rect x="321" y="156" width="5" height="18" fill="#000"/>
<rect x="331" y="165" width="1" height="31" fill="#000"/>
<rect x="329" y="165" width="5" height="12" fill="#000"/>
<rect x="339" y="170" width="1" height="22" fill="#000"/>
<rect x="337" y="178" width="5" height="11" fill="#000"/>
<rect x="347" y="190" width="1" height="55" fill="#000"/>
<rect x="345" y="193" width="5" height="35" fill="#000"/>
<rect x="355" y="212" width="1" height="15" fill="#000"/>
<rect x="353" y="218" width="5" height="10" fill="#000"/>
<rect x="354" y="219" width="3" height="8" fill="#fff"/>
<rect x="363" y="144" width="1" height="56" fill="#000"/>
<rect x="361" y="164" width="5" height="28" fill="#000"/>
<rect x="371" y="190" width="1" height="43" fill="#000"/>
<rect x="369" y="190" width="5" height="43" fill="#000"/>
<rect x="379" y="212" width="1" height="56" fill="#000"/>
<rect x="377" y="243" width="5" height="18" fill="#000"/>
<rect x="387" y="228" width="1" height="38" fill="#000"/>
<rect x="385" y="231" width="5" height="31" fill="#000"/>
<rect x="386" y="232" width="3" height="29" fill="#fff"/>
<rect x="395" y="205" width="1" height="32" fill="#000"/>
<rect x="393" y="216" width="5" height="12" fill="#000"/>
<rect x="403" y="199" width="1" height="36" fill="#000"/>
<rect x="401" y="205" width="5" height="23" fill="#000"/>
<rect x="402" y="206" width="3" height="21" fill="#fff"/>
<rect x="411" y="230" width="1" height="41" fill="#000"/>
<rect x="409" y="239" width="5" height="7" fill="#000"/>
<rect x="410" y="240" width="3" height="5" fill="#fff"/>
<rect x="419" y="237" width="1" height="43" fill="#000"/>
<rect x="417" y="240" width="5" height="13" fill="#000"/>
<rect x="427" y="256" width="1" height="32" fill="#000"/>
<rect x="425" y="272" width="5" height="7" fill="#000"/>
<rect x="426" y="273" width="3" height="5" fill="#fff"/>
<rect x="435" y="261" width="1" height="19" fill="#000"/>
<rect x="433" y="270" width="5" height="5" fill="#000"/>
<rect x="434" y="271" width="3" height="3" fill="#fff"/>
<rect x="443" y="236" width="1" height="48" fill="#000"/>
<rect x="441" y="255" width="5" height="20" fill="#000"/>
<rect x="451" y="257" width="1" height="19" fill="#000"/>
<rect x="449" y="264" width="5" height="13" fill="#000"/>
<rect x="450" y="265" width="3" height="11" fill="#fff"/>
<rect x="459" y="257" width="1" height="57" fill="#000"/>
<rect x="457" y="277" width="5" height="32" fill="#000"/>
<rect x="467" y="228" width="1" height="83" fill="#000"/>
<rect x="465" y="230" width="5" height="78" fill="#000"/>
<rect x="466" y="231" width="3" height="76" fill="#fff"/>
<rect x="475" y="216" width="1" height="50" fill="#000"/>
<rect x="473" y="243" width="5" height="18" fill="#000"/>
<rect x="474" y="244" width="3" height="16" fill="#fff"/>
<rect x="483" y="187" width="1" height="61" fill="#000"/>
<rect x="481" y="204" width="5" height="44" fill="#000"/>
<rect x="482" y="205" width="3" height="42" fill="#fff"/>
<rect x="491" y="157" width="1" height="39" fill="#000"/>
<rect x="489" y="164" width="5" height="30" fill="#000"/>
<rect x="499" y="183" width="1" height="23" fill="#000"/>
<rect x="497" y="188" width="5" height="5" fill="#000"/>
<rect x="498" y="189" width="3" height="3" fill="#fff"/>
<rect x="507" y="170" width="1" height="36" fill="#000"/>
<rect x="505" y="177" width="5" height="21" fill="#000"/>
<rect x="515" y="175" width="1" height="25" fill="#000"/>
<rect x="513" y="180" width="5" height="17" fill="#000"/>
<rect x="514" y="181" width="3" height="15" fill="#fff"/>
<rect x="523" y="138" width="1" height="45" fill="#000"/>
<rect x="521" y="140" width="5" height="42" fill="#000"/>
<rect x="522" y="141" width="3" height="40" fill="#fff"/>
<rect x="531" y="126" width="1" height="23" fill="#000"/>
<rect x="529" y="140" width="5" height="3" fill="#000"/>
<rect x="539" y="142" width="1" height="24" fill="#000"/>
<rect x="537" y="152" width="5" height="4" fill="#000"/>
<rect x="547" y="141" width="1" height="20" fill="#000"/>
<rect x="545" y="143" width="5" height="11" fill="#000"/>
<rect x="546" y="144" width="3" height="9" fill="#fff"/>
<rect x="555" y="179" width="1" height="27" fill="#000"/>
<rect x="553" y="182" width="5" height="13" fill="#000"/>
<rect x="563" y="185" width="1" height="19" fill="#000"/>
<rect x="561" y="188" width="5" height="7" fill="#000"/>
<rect x="562" y="189" width="3" height="5" fill="#fff"/>
<rect x="571" y="224" width="1" height="41" fill="#000"/>
<rect x="569" y="243" width="5" height="13" fill="#000"/>
<rect x="579" y="227" width="1" height="31" fill="#000"/>
<rect x="577" y="234" width="5" height="23" fill="#000"/>
<rect x="578" y="235" width="3" height="21" fill="#fff"/>
<rect x="587" y="219" width="1" height="26" fill="#000"/>
<rect x="585" y="234" width="5" height="6" fill="#000"/>
<rect x="595" y="236" width="1" height="18" fill="#000"/>
<rect x="593" y="239" width="5" height="6" fill="#000"/>
<rect x="603" y="261" width="1" height="29" fill="#000"/>
<rect x="601" y="276" width="5" height="7" fill="#000"/>
<rect x="602" y="277" width="3" height="5" fill="#fff"/>
<rect x="611" y="273" width="1" height="23" fill="#000"/>
<rect x="609" y="277" width="5" height="20" fill="#000"/>
<rect x="619" y="274" width="1" height="25" fill="#000"/>
<rect x="617" y="286" width="5" height="7" fill="#000"/>
<rect x="618" y="287" width="3" height="5" fill="#fff"/>
<rect x="627" y="253" width="1" height="37" fill="#000"/>
<rect x="625" y="277" width="5" height="12" fill="#000"/>
<rect x="626" y="278" width="3" height="10" fill="#fff"/>
<rect x="635" y="270" width="1" height="33" fill="#000"/>
<rect x="633" y="274" width="5" height="5" fill="#000"/>
<rect x="634" y="275" width="3" height="3" fill="#fff"/>
<rect x="643" y="266" width="1" height="15" fill="#000"/>
<rect x="641" y="269" width="5" height="6" fill="#000"/>
<rect x="642" y="270" width="3" height="4" fill="#fff"/>
<rect x="651" y="307" width="1" height="45" fill="#000"/>
<rect x="649" y="307" width="5" height="45" fill="#000"/>
<rect x="659" y="349" width="1" height="27" fill="#000"/>
<rect x="657" y="350" width="5" height="23" fill="#000"/>
<rect x="667" y="356" width="1" height="44" fill="#000"/>
<rect x="665" y="386" width="5" height="7" fill="#000"/>
<rect x="666" y="387" width="3" height="5" fill="#fff"/>
<rect x="675" y="386" width="1" height="28" fill="#000"/>
<rect x="673" y="392" width="5" height="23" fill="#000"/>
<rect x="683" y="396" width="1" height="56" fill="#000"/>
<rect x="681" y="399" width="5" height="43" fill="#000"/>
<rect x="691" y="437" width="1" height="66" fill="#000"/>
<rect x="689" y="442" width="5" height="9" fill="#000"/>
<rect x="699" y="398" width="1" height="58" fill="#000"/>
<rect x="697" y="406" width="5" height="41" fill="#000"/>
<rect x="698" y="407" width="3" height="39" fill="#fff"/>
<rect x="707" y="394" width="1" height="47" fill="#000"/>
<rect x="705" y="402" width="5" height="33" fill="#000"/>
<rect x="715" y="406" width="1" height="49" fill="#000"/>
<rect x="713" y="418" width="5" height="32" fill="#000"/>
<rect x="714" y="419" width="3" height="30" fill="#fff"/>
<rect x="723" y="404" width="1" height="25" fill="#000"/>
<rect x="721" y="412" width="5" height="7" fill="#000"/>
<rect x="722" y="413" width="3" height="5" fill="#fff"/>
<rect x="731" y="422" width="1" height="39" fill="#000"/>
<rect x="729" y="428" width="5" height="5" fill="#000"/>
<rect x="739" y="397" width="1" height="40" fill="#000"/>
<rect x="737" y="406" width="5" height="27" fill="#000"/>
<rect x="738" y="407" width="3" height="25" fill="#fff"/>
<rect x="747" y="430" width="1" height="39" fill="#000"/>
<rect x="745" y="450" width="5" height="11" fill="#000"/>
<rect x="746" y="451" width="3" height="9" fill="#fff"/>
<rect x="755" y="446" width="1" height="30" fill="#000"/>
<rect x="753" y="450" width="5" height="22" fill="#000"/>
<rect x="763" y="409" width="1" height="38" fill="#000"/>
<rect x="761" y="417" width="5" height="6" fill="#000"/>
<rect x="771" y="371" width="1" height="49" fill="#000"/>
<rect x="769" y="373" width="5" height="48" fill="#000"/>
<rect x="770" y="374" width="3" height="46" fill="#fff"/>
<rect x="779" y="357" width="1" height="33" fill="#000"/>
<rect x="777" y="362" width="5" height="22" fill="#000"/>
<rect x="787" y="370" width="1" height="16" fill="#000"/>
<rect x="785" y="376" width="5" height="8" fill="#000"/>
<rect x="786" y="377" width="3" height="6" fill="#fff"/>
<rect x="795" y="328" width="1" height="26" fill="#000"/>
<rect x="793" y="346" width="5" height="8" fill="#000"/>
<rect x="794" y="347" width="3" height="6" fill="#fff"/>
<rect x="803" y="335" width="1" height="19" fill="#000"/>
<rect x="801" y="346" width="5" height="8" fill="#000"/>
<rect x="811" y="344" width="1" height="36" fill="#000"/>
<rect x="809" y="355" width="5" height="21" fill="#000"/>
<rect x="810" y="356" width="3" height="19" fill="#fff"/>
<rect x="819" y="356" width="1" height="32" fill="#000"/>
<rect x="817" y="357" width="5" height="24" fill="#000"/>
<rect x="827" y="319" width="1" height="36" fill="#000"/>
<rect x="825" y="342" width="5" height="5" fill="#000"/>
<rect x="826" y="343" width="3" height="3" fill="#fff"/>
<rect x="835" y="339" width="1" height="46" fill="#000"/>
<rect x="833" y="342" width="5" height="33" fill="#000"/>
<rect x="843" y="402" width="1" height="30" fill="#000"/>
<rect x="841" y="420" width="5" height="6" fill="#000"/>
<rect x="851" y="420" width="1" height="20" fill="#000"/>
<rect x="849" y="425" width="5" height="9" fill="#000"/>
<rect x="859" y="412" width="1" height="28" fill="#000"/>
<rect x="857" y="418" width="5" height="4" fill="#000"/>
<rect x="867" y="422" width="1" height="50" fill="#000"/>
<rect x="865" y="422" width="5" height="41" fill="#000"/>
<rect x="875" y="465" width="1" height="34" fill="#000"/>
<rect x="873" y="477" width="5" height="8" fill="#000"/>
<rect x="883" y="442" width="1" height="41" fill="#000"/>
<rect x="881" y="450" width="5" height="34" fill="#000"/>
<rect x="882" y="451" width="3" height="32" fill="#fff"/>
<rect x="891" y="439" width="1" height="58" fill="#000"/>
<rect x="889" y="452" width="5" height="44" fill="#000"/>
<rect x="899" y="475" width="1" height="26" fill="#000"/>
<rect x="897" y="491" width="5" height="8" fill="#000"/>
<rect x="907" y="493" width="1" height="46" fill="#000"/>
<rect x="905" y="502" width="5" height="36" fill="#000"/>
<rect x="915" y="522" width="1" height="45" fill="#000"/>
<rect x="913" y="537" width="5" height="14" fill="#000"/>
<rect x="923" y="529" width="1" height="26" fill="#000"/>
<rect x="921" y="535" width="5" height="8" fill="#000"/>
<rect x="922" y="536" width="3" height="6" fill="#fff"/>
<rect x="931" y="506" width="1" height="34" fill="#000"/>
<rect x="929" y="532" width="5" height="5" fill="#000"/>
<rect x="930" y="533" width="3" height="3" fill="#fff"/>
<rect x="939" y="483" width="1" height="33" fill="#000"/>
<rect x="937" y="487" width="5" height="26" fill="#000"/>
<rect x="947" y="500" width="1" height="22" fill="#000"/>
<rect x="945" y="504" width="5" height="9" fill="#000"/>
<rect x="946" y="505" width="3" height="7" fill="#fff"/>
<rect x="955" y="481" width="1" height="33" fill="#000"/>
<rect x="953" y="491" width="5" height="8" fill="#000"/>
<rect x="963" y="485" width="1" height="17" fill="#000"/>
<rect x="961" y="489" width="5" height="9" fill="#000"/>
<rect x="962" y="490" width="3" height="7" fill="#fff"/>
<rect x="971" y="460" width="1" height="31" fill="#000"/>
<rect x="969" y="469" width="5" height="15" fill="#000"/>
<rect x="979" y="469" width="1" height="35" fill="#000"/>
<rect x="977" y="472" width="5" height="14" fill="#000"/>
<rect x="987" y="464" width="1" height="26" fill="#000"/>
<rect x="985" y="466" width="5" height="20" fill="#000"/>
<rect x="986" y="467" width="3" height="18" fill="#fff"/>
<rect x="995" y="475" width="1" height="35" fill="#000"/>
<rect x="993" y="479" width="5" height="30" fill="#000"/>
<rect x="1003" y="503" width="1" height="17" fill="#000"/>
<rect x="1001" y="507" width="5" height="5" fill="#000"/>
<rect x="1011" y="484" width="1" height="29" fill="#000"/>
<rect x="1009" y="500" width="5" height="7" fill="#000"/>
<rect x="1010" y="501" width="3" height="5" fill="#fff"/>
<rect x="1019" y="493" width="1" height="29" fill="#000"/>
<rect x="1017" y="498" width="5" height="2" fill="#000"/>
<rect x="1027" y="432" width="1" height="33" fill="#000"/>
<rect x="1025" y="451" width="5" height="8" fill="#000"/>
<rect x="1035" y="429" width="1" height="59" fill="#000"/>
<rect x="1033" y="449" width="5" height="37" fill="#000"/>
<rect x="1043" y="478" width="1" height="16" fill="#000"/>
<rect x="1041" y="480" width="5" height="6" fill="#000"/>
<rect x="1042" y="481" width="3" height="4" fill="#fff"/>
<rect x="1051" y="456" width="1" height="43" fill="#000"/>
<rect x="1049" y="465" width="5" height="25" fill="#000"/>
<rect x="1059" y="465" width="1" height="29" fill="#000"/>
<rect x="1057" y="476" width="5" height="11" fill="#000"/>
<rect x="1058" y="477" width="3" height="9" fill="#fff"/>
<rect x="1067" y="471" width="1" height="48" fill="#000"/>
<rect x="1065" y="483" width="5" height="21" fill="#000"/>
<rect x="1075" y="505" width="1" height="33" fill="#000"/>
<rect x="1073" y="506" width="5" height="27" fill="#000"/>
<rect x="1083" y="512" width="1" height="48" fill="#000"/>
<rect x="1081" y="534" width="5" height="11" fill="#000"/>
<rect x="1091" y="505" width="1" height="50" fill="#000"/>
<rect x="1089" y="519" width="5" height="28" fill="#000"/>
<rect x="1090" y="520" width="3" height="26" fill="#fff"/>
<rect x="1099" y="461" width="1" height="38" fill="#000"/>
<rect x="1097" y="471" width="5" height="10" fill="#000"/>
<rect x="1098" y="472" width="3" height="8" fill="#fff"/>
<rect x="1107" y="445" width="1" height="28" fill="#000"/>
<rect x="1105" y="452" width="5" height="19" fill="#000"/>
<rect x="1106" y="453" width="3" height="17" fill="#fff"/>
<rect x="1115" y="412" width="1" height="48" fill="#000"/>
<rect x="1113" y="420" width="5" height="27" fill="#000"/>
<rect x="1114" y="421" width="3" height="25" fill="#fff"/>
<rect x="1123" y="406" width="1" height="23" fill="#000"/>
<rect x="1121" y="420" width="5" height="4" fill="#000"/>
<rect x="1131" y="396" width="1" height="48" fill="#000"/>
<rect x="1129" y="401" width="5" height="29" fill="#000"/>
<rect x="1130" y="402" width="3" height="27" fill="#fff"/>
<rect x="1139" y="399" width="1" height="40" fill="#000"/>
<rect x="1137" y="402" width="5" height="17" fill="#000"/>
<rect x="1147" y="341" width="1" height="42" fill="#000"/>
<rect x="1145" y="344" width="5" height="33" fill="#000"/>
<rect x="1146" y="345" width="3" height="31" fill="#fff"/>
<rect x="1155" y="318" width="1" height="28" fill="#000"/>
<rect x="1153" y="330" width="5" height="16" fill="#000"/>
<rect x="1154" y="331" width="3" height="14" fill="#fff"/>
<rect x="1163" y="299" width="1" height="24" fill="#000"/>
<rect x="1161" y="299" width="5" height="17" fill="#000"/>
<rect x="1171" y="306" width="1" height="28" fill="#000"/>
<rect x="1169" y="310" width="5" height="4" fill="#000"/>
<rect x="1170" y="311" width="3" height="2" fill="#fff"/>
<rect x="1179" y="332" width="1" height="23" fill="#000"/>
<rect x="1177" y="344" width="5" height="5" fill="#000"/>
<rect x="1187" y="320" width="1" height="31" fill="#000"/>
<rect x="1185" y="321" width="5" height="26" fill="#000"/>
<rect x="1186" y="322" width="3" height="24" fill="#fff"/>
<rect x="1195" y="316" width="1" height="35" fill="#000"/>
<rect x="1193" y="316" width="5" height="27" fill="#000"/>
<rect x="1203" y="341" width="1" height="23" fill="#000"/>
<rect x="1201" y="344" width="5" height="5" fill="#000"/>
<rect x="1211" y="322" width="1" height="35" fill="#000"/>
<rect x="1209" y="336" width="5" height="15" fill="#000"/>
<rect x="1219" y="353" width="1" height="22" fill="#000"/>
<rect x="1217" y="354" width="5" height="17" fill="#000"/>
<rect x="1227" y="336" width="1" height="29" fill="#000"/>
<rect x="1225" y="357" width="5" height="4" fill="#000"/>
<rect x="1235" y="362" width="1" height="23" fill="#000"/>
<rect x="1233" y="363" width="5" height="3" fill="#000"/>
<rect x="1243" y="275" width="1" height="69" fill="#000"/>
<rect x="1241" y="276" width="5" height="63" fill="#000"/>
<rect x="1242" y="277" width="3" height="61" fill="#fff"/>
<rect x="1251" y="234" width="1" height="42" fill="#000"/>
<rect x="1249" y="234" width="5" height="41" fill="#000"/>
<rect x="1250" y="235" width="3" height="39" fill="#fff"/>
<rect x="1259" y="238" width="1" height="34" fill="#000"/>
<rect x="1257" y="246" width="5" height="23" fill="#000"/>
<rect x="1267" y="240" width="1" height="33" fill="#000"/>
<rect x="1265" y="247" width="5" height="20" fill="#000"/>
<rect x="1266" y="248" width="3" height="18" fill="#fff"/>
<rect x="1275" y="269" width="1" height="26" fill="#000"/>
<rect x="1273" y="276" width="5" height="5" fill="#000"/>
<rect x="1274" y="277" width="3" height="3" fill="#fff"/>
<rect x="1283" y="264" width="1" height="31" fill="#000"/>
<rect x="1281" y="276" width="5" height="9" fill="#000"/>
<rect x="1291" y="328" width="1" height="39" fill="#000"/>
<rect x="1289" y="334" width="5" height="15" fill="#000"/>
<rect x="1290" y="335" width="3" height="13" fill="#fff"/>
<rect x="1299" y="330" width="1" height="50" fill="#000"/>
<rect x="1297" y="338" width="5" height="8" fill="#000"/>
<rect x="1307" y="312" width="1" height="34" fill="#000"/>
<rect x="1305" y="322" width="5" height="19" fill="#000"/>
<rect x="1315" y="335" width="1" height="27" fill="#000"/>
<rect x="1313" y="336" width="5" height="5" fill="#000"/>
<rect x="1314" y="337" width="3" height="3" fill="#fff"/>
<rect x="1323" y="364" width="1" height="66" fill="#000"/>
<rect x="1321" y="364" width="5" height="65" fill="#000"/>
<rect x="1331" y="399" width="1" height="44" fill="#000"/>
<rect x="1329" y="404" width="5" height="22" fill="#000"/>
<rect x="1330" y="405" width="3" height="20" fill="#fff"/>
<rect x="1339" y="394" width="1" height="53" fill="#000"/>
<rect x="1337" y="396" width="5" height="41" fill="#000"/>
<rect x="1347" y="426" width="1" height="36" fill="#000"/>
<rect x="1345" y="440" width="5" height="19" fill="#000"/>
<rect x="1355" y="381" width="1" height="77" fill="#000"/>
<rect x="1353" y="402" width="5" height="35" fill="#000"/>
<rect x="1354" y="403" width="3" height="33" fill="#fff"/>
<rect x="1363" y="309" width="1" height="51" fill="#000"/>
<rect x="1361" y="314" width="5" height="32" fill="#000"/>
<rect x="1362" y="315" width="3" height="30" fill="#fff"/>
<rect x="1371" y="289" width="1" height="27" fill="#000"/>
<rect x="1369" y="299" width="5" height="18" fill="#000"/>
<rect x="1370" y="300" width="3" height="16" fill="#fff"/>
<rect x="1379" y="292" width="1" height="36" fill="#000"/>
<rect x="1377" y="303" width="5" height="7" fill="#000"/>
<rect x="1387" y="296" width="1" height="20" fill="#000"/>
<rect x="1385" y="305" width="5" height="7" fill="#000"/>
<rect x="1395" y="295" width="1" height="55" fill="#000"/>
<rect x="1393" y="308" width="5" height="43" fill="#000"/>
<rect x="1403" y="318" width="1" height="39" fill="#000"/>
<rect x="1401" y="330" width="5" height="19" fill="#000"/>
<rect x="1402" y="331" width="3" height="17" fill="#fff"/>
<rect x="1411" y="254" width="1" height="25" fill="#000"/>
<rect x="1409" y="259" width="5" height="18" fill="#000"/>
<rect x="1410" y="260" width="3" height="16" fill="#fff"/>
<rect x="1419" y="246" width="1" height="24" fill="#000"/>
<rect x="1417" y="256" width="5" height="4" fill="#000"/>
</g>
<path d="M1425 27h10l-5 5.5z" fill="#b4b4b4" shape-rendering="auto"/>
<g clip-path="url(#c2)">
<rect x="3" y="665" width="1" height="66" fill="#c0c0c0"/>
<rect x="11" y="665" width="1" height="60" fill="#c0c0c0"/>
<rect x="19" y="665" width="1" height="58" fill="#c0c0c0"/>
<rect x="27" y="665" width="1" height="52" fill="#c0c0c0"/>
<rect x="35" y="665" width="1" height="48" fill="#c0c0c0"/>
<rect x="43" y="665" width="1" height="43" fill="#c0c0c0"/>
<rect x="51" y="665" width="1" height="48" fill="#c0c0c0"/>
<rect x="59" y="665" width="1" height="50" fill="#c0c0c0"/>
<rect x="67" y="665" width="1" height="49" fill="#c0c0c0"/>
<rect x="75" y="665" width="1" height="49" fill="#c0c0c0"/>
<rect x="83" y="665" width="1" height="50" fill="#c0c0c0"/>
<rect x="91" y="665" width="1" height="49" fill="#c0c0c0"/>
<rect x="99" y="665" width="1" height="41" fill="#c0c0c0"/>
<rect x="107" y="665" width="1" height="31" fill="#c0c0c0"/>
<rect x="115" y="665" width="1" height="23" fill="#c0c0c0"/>
<rect x="123" y="665" width="1" height="14" fill="#c0c0c0"/>
<rect x="139" y="655" width="1" height="10" fill="#c0c0c0"/>
<rect x="147" y="650" width="1" height="15" fill="#c0c0c0"/>
<rect x="155" y="648" width="1" height="17" fill="#c0c0c0"/>
<rect x="163" y="646" width="1" height="19" fill="#c0c0c0"/>
<rect x="171" y="642" width="1" height="23" fill="#c0c0c0"/>
<rect x="179" y="637" width="1" height="28" fill="#c0c0c0"/>
<rect x="187" y="634" width="1" height="31" fill="#c0c0c0"/>
<rect x="195" y="629" width="1" height="36" fill="#c0c0c0"/>
<rect x="203" y="622" width="1" height="43" fill="#c0c0c0"/>
<rect x="211" y="615" width="1" height="50" fill="#c0c0c0"/>
<rect x="219" y="605" width="1" height="60" fill="#c0c0c0"/>
<rect x="227" y="598" width="1" height="67" fill="#c0c0c0"/>
<rect x="235" y="594" width="1" height="71" fill="#c0c0c0"/>
<rect x="243" y="593" width="1" height="72" fill="#c0c0c0"/>
<rect x="251" y="592" width="1" height="73" fill="#c0c0c0"/>
<rect x="259" y="591" width="1" height="74" fill="#c0c0c0"/>
<rect x="267" y="591" width="1" height="74" fill="#c0c0c0"/>
<rect x="275" y="592" width="1" height="73" fill="#c0c0c0"/>
<rect x="283" y="594" width="1" height="71" fill="#c0c0c0"/>
<rect x="291" y="598" width="1" height="67" fill="#c0c0c0"/>
<rect x="299" y="608" width="1" height="57" fill="#c0c0c0"/>
<rect x="307" y="617" width="1" height="48" fill="#c0c0c0"/>
<rect x="315" y="625" width="1" height="40" fill="#c0c0c0"/>
<rect x="323" y="633" width="1" height="32" fill="#c0c0c0"/>
<rect x="331" y="641" width="1" height="24" fill="#c0c0c0"/>
<rect x="339" y="648" width="1" height="17" fill="#c0c0c0"/>
<rect x="347" y="658" width="1" height="7" fill="#c0c0c0"/>
<rect x="355" y="665" width="1" height="1" fill="#c0c0c0"/>
<rect x="363" y="665" width="1" height="1" fill="#c0c0c0"/>
<rect x="371" y="665" width="1" height="7" fill="#c0c0c0"/>
<rect x="379" y="665" width="1" height="15" fill="#c0c0c0"/>
<rect x="387" y="665" width="1" height="18" fill="#c0c0c0"/>
<rect x="395" y="665" width="1" height="19" fill="#c0c0c0"/>
<rect x="403" y="665" width="1" height="18" fill="#c0c0c0"/>
<rect x="411" y="665" width="1" height="21" fill="#c0c0c0"/>
<rect x="419" y="665" width="1" height="25" fill="#c0c0c0"/>
<rect x="427" y="665" width="1" height="29" fill="#c0c0c0"/>
<rect x="435" y="665" width="1" height="31" fill="#c0c0c0"/>
<rect x="443" y="665" width="1" height="33" fill="#c0c0c0"/>
<rect x="451" y="665" width="1" height="33" fill="#c0c0c0"/>
<rect x="459" y="665" width="1" height="39" fill="#c0c0c0"/>
<rect x="467" y="665" width="1" height="33" fill="#c0c0c0"/>
<rect x="475" y="665" width="1" height="29" fill="#c0c0c0"/>
<rect x="483" y="665" width="1" height="23" fill="#c0c0c0"/>
<rect x="491" y="665" width="1" height="16" fill="#c0c0c0"/>
<rect x="499" y="665" width="1" height="10" fill="#c0c0c0"/>
<rect x="507" y="665" width="1" height="5" fill="#c0c0c0"/>
<rect x="515" y="665" width="1" height="1" fill="#c0c0c0"/>
<rect x="523" y="659" width="1" height="6" fill="#c0c0c0"/>
<rect x="531" y="653" width="1" height="12" fill="#c0c0c0"/>
<rect x="539" y="650" width="1" height="15" fill="#c0c0c0"/>
<rect x="547" y="646" width="1" height="19" fill="#c0c0c0"/>
<rect x="555" y="649" width="1" height="16" fill="#c0c0c0"/>
<rect x="563" y="651" width="1" height="14" fill="#c0c0c0"/>
<rect x="571" y="660" width="1" height="5" fill="#c0c0c0"/>
<rect x="579" y="664" width="1" height="1" fill="#c0c0c0"/>
<rect x="587" y="665" width="1" height="1" fill="#c0c0c0"/>
<rect x="595" y="665" width="1" height="5" fill="#c0c0c0"/>
<rect x="603" y="665" width="1" height="11" fill="#c0c0c0"/>
<rect x="611" y="665" width="1" height="18" fill="#c0c0c0"/>
<rect x="619" y="665" width="1" height="23" fill="#c0c0c0"/>
<rect x="627" y="665" width="1" height="25" fill="#c0c0c0"/>
<rect x="635" y="665" width="1" height="25" fill="#c0c0c0"/>
<rect x="643" y="665" width="1" height="25" fill="#c0c0c0"/>
<rect x="651" y="665" width="1" height="35" fill="#c0c0c0"/>
<rect x="659" y="665" width="1" height="43" fill="#c0c0c0"/>
<rect x="667" y="665" width="1" height="51" fill="#c0c0c0"/>
<rect x="675" y="665" width="1" height="59" fill="#c0c0c0"/>
<rect x="683" y="665" width="1" height="68" fill="#c0c0c0"/>
<rect x="691" y="665" width="1" height="75" fill="#c0c0c0"/>
<rect x="699" y="665" width="1" height="75" fill="#c0c0c0"/>
<rect x="707" y="665" width="1" height="77" fill="#c0c0c0"/>
<rect x="715" y="665" width="1" height="76" fill="#c0c0c0"/>
<rect x="723" y="665" width="1" height="74" fill="#c0c0c0"/>
<rect x="731" y="665" width="1" height="73" fill="#c0c0c0"/>
<rect x="739" y="665" width="1" height="69" fill="#c0c0c0"/>
<rect x="747" y="665" width="1" height="70" fill="#c0c0c0"/>
<rect x="755" y="665" width="1" height="72" fill="#c0c0c0"/>
<rect x="763" y="665" width="1" height="68" fill="#c0c0c0"/>
<rect x="771" y="665" width="1" height="58" fill="#c0c0c0"/>
<rect x="779" y="665" width="1" height="51" fill="#c0c0c0"/>
<rect x="787" y="665" width="1" height="43" fill="#c0c0c0"/>
<rect x="795" y="665" width="1" height="35" fill="#c0c0c0"/>
<rect x="803" y="665" width="1" height="27" fill="#c0c0c0"/>
<rect x="811" y="665" width="1" height="23" fill="#c0c0c0"/>
<rect x="819" y="665" width="1" height="21" fill="#c0c0c0"/>
<rect x="827" y="665" width="1" height="14" fill="#c0c0c0"/>
<rect x="835" y="665" width="1" height="13" fill="#c0c0c0"/>
<rect x="843" y="665" width="1" height="17" fill="#c0c0c0"/>
<rect x="851" y="665" width="1" height="21" fill="#c0c0c0"/>
<rect x="859" y="665" width="1" height="23" fill="#c0c0c0"/>
<rect x="867" y="665" width="1" height="29" fill="#c0c0c0"/>
<rect x="875" y="665" width="1" height="35" fill="#c0c0c0"/>
<rect x="883" y="665" width="1" height="35" fill="#c0c0c0"/>
<rect x="891" y="665" width="1" height="41" fill="#c0c0c0"/>
<rect x="899" y="665" width="1" height="45" fill="#c0c0c0"/>
<rect x="907" y="665" width="1" height="52" fill="#c0c0c0"/>
<rect x="915" y="665" width="1" height="58" fill="#c0c0c0"/>
<rect x="923" y="665" width="1" height="60" fill="#c0c0c0"/>
<rect x="931" y="665" width="1" height="61" fill="#c0c0c0"/>
<rect x="939" y="665" width="1" height="59" fill="#c0c0c0"/>
<rect x="947" y="665" width="1" height="56" fill="#c0c0c0"/>
<rect x="955" y="665" width="1" height="52" fill="#c0c0c0"/>
<rect x="963" y="665" width="1" height="47" fill="#c0c0c0"/>
<rect x="971" y="665" width="1" height="43" fill="#c0c0c0"/>
<rect x="979" y="665" width="1" height="39" fill="#c0c0c0"/>
<rect x="987" y="665" width="1" height="33" fill="#c0c0c0"/>
<rect x="995" y="665" width="1" height="33" fill="#c0c0c0"/>
<rect x="1003" y="665" width="1" height="31" fill="#c0c0c0"/>
<rect x="1011" y="665" width="1" height="31" fill="#c0c0c0"/>
<rect x="1019" y="665" width="1" height="29" fill="#c0c0c0"/>
<rect x="1027" y="665" width="1" height="23" fill="#c0c0c0"/>
<rect x="1035" y="665" width="1" height="19" fill="#c0c0c0"/>
<rect x="1043" y="665" width="1" height="17" fill="#c0c0c0"/>
<rect x="1051" y="665" width="1" height="16" fill="#c0c0c0"/>
<rect x="1059" y="665" width="1" height="13" fill="#c0c0c0"/>
<rect x="1067" y="665" width="1" height="14" fill="#c0c0c0"/>
<rect x="1075" y="665" width="1" height="18" fill="#c0c0c0"/>
<rect x="1083" y="665" width="1" height="21" fill="#c0c0c0"/>
<rect x="1091" y="665" width="1" height="23" fill="#c0c0c0"/>
<rect x="1099" y="665" width="1" height="16" fill="#c0c0c0"/>
<rect x="1107" y="665" width="1" height="10" fill="#c0c0c0"/>
<rect x="1115" y="665" width="1" height="1" fill="#c0c0c0"/>
<rect x="1123" y="662" width="1" height="3" fill="#c0c0c0"/>
<rect x="1131" y="655" width="1" height="10" fill="#c0c0c0"/>
<rect x="1139" y="651" width="1" height="14" fill="#c0c0c0"/>
<rect x="1147" y="640" width="1" height="25" fill="#c0c0c0"/>
<rect x="1155" y="630" width="1" height="35" fill="#c0c0c0"/>
<rect x="1163" y="622" width="1" height="43" fill="#c0c0c0"/>
<rect x="1171" y="615" width="1" height="50" fill="#c0c0c0"/>
<rect x="1179" y="614" width="1" height="51" fill="#c0c0c0"/>
<rect x="1187" y="611" width="1" height="54" fill="#c0c0c0"/>
<rect x="1195" y="612" width="1" height="53" fill="#c0c0c0"/>
<rect x="1203" y="614" width="1" height="51" fill="#c0c0c0"/>
<rect x="1211" y="616" width="1" height="49" fill="#c0c0c0"/>
<rect x="1219" y="620" width="1" height="45" fill="#c0c0c0"/>
<rect x="1227" y="623" width="1" height="42" fill="#c0c0c0"/>
<rect x="1235" y="626" width="1" height="39" fill="#c0c0c0"/>
<rect x="1243" y="620" width="1" height="45" fill="#c0c0c0"/>
<rect x="1251" y="611" width="1" height="54" fill="#c0c0c0"/>
<rect x="1259" y="608" width="1" height="57" fill="#c0c0c0"/>
<rect x="1267" y="604" width="1" height="61" fill="#c0c0c0"/>
<rect x="1275" y="605" width="1" height="60" fill="#c0c0c0"/>
<rect x="1283" y="607" width="1" height="58" fill="#c0c0c0"/>
<rect x="1291" y="615" width="1" height="50" fill="#c0c0c0"/>
<rect x="1299" y="623" width="1" height="42" fill="#c0c0c0"/>
<rect x="1307" y="629" width="1" height="36" fill="#c0c0c0"/>
<rect x="1315" y="634" width="1" height="31" fill="#c0c0c0"/>
<rect x="1323" y="647" width="1" height="18" fill="#c0c0c0"/>
<rect x="1331" y="656" width="1" height="9" fill="#c0c0c0"/>
<rect x="1339" y="665" width="1" height="1" fill="#c0c0c0"/>
<rect x="1347" y="665" width="1" height="10" fill="#c0c0c0"/>
<rect x="1355" y="665" width="1" height="12" fill="#c0c0c0"/>
<rect x="1363" y="665" width="1" height="3" fill="#c0c0c0"/>
<rect x="1371" y="663" width="1" height="2" fill="#c0c0c0"/>
<rect x="1379" y="658" width="1" height="7" fill="#c0c0c0"/>
<rect x="1387" y="654" width="1" height="11" fill="#c0c0c0"/>
<rect x="1395" y="658" width="1" height="7" fill="#c0c0c0"/>
<rect x="1403" y="655" width="1" height="10" fill="#c0c0c0"/>
<rect x="1411" y="650" width="1" height="15" fill="#c0c0c0"/>
<rect x="1419" y="640" width="1" height="25" fill="#c0c0c0"/>
<polyline points="0.0,742.3 12.0,738.7 24.0,733.6 36.0,728.6 48.0,724.2 60.0,720.2 72.3,717.0 84.4,715.6 96.4,713.6 108.5,711.0 120.5,706.5 130.5,700.5 138.6,694.0 148.6,684.4 158.7,674.4 168.7,665.4 178.8,655.3 188.8,648.3 200.8,639.9 212.9,634.2 225.0,626.2 237.0,619.2 249.0,609.0 261.0,602.5 271.0,597.7 281.2,594.0 291.2,593.0 301.3,594.0 311.3,597.7 321.3,604.0 331.4,610.0 339.8,615.2 348.0,625.2 360.0,636.2 372.0,648.3 384.2,658.3 396.3,666.4 404.3,670.8 412.3,677.4 422.4,680.4 432.4,685.5 442.4,688.5 452.5,692.0 460.5,692.9 468.6,695.5 480.6,696.5 490.6,694.9 500.7,692.9 510.7,689.5 522.8,682.8 532.8,675.4 542.9,668.4 552.9,662.8 563.0,657.9 571.0,655.3 583.0,655.3 595.0,655.9 605.0,659.9 615.2,665.4 625.2,670.8 637.3,678.0 649.3,683.4 661.4,690.5 672.0,697.5 684.0,706.0 696.0,714.2 708.0,722.2 720.2,729.6 732.3,735.7 744.3,738.3 756.4,738.3 768.4,737.0 780.5,732.6 792.5,726.6 804.6,719.6 816.6,712.6 828.7,702.5 840.7,694.5 852.8,689.5 860.8,687.5 870.8,687.5 880.9,689.0 890.9,690.5 901.0,695.5 913.0,701.5 925.0,708.5 937.0,714.6 947.2,717.2 957.2,719.6 973.3,719.6 983.3,717.0 993.4,713.0 1003.4,709.0 1011.8,707.0 1018.0,703.5 1028.0,698.5 1042.0,694.9 1052.2,691.0 1062.2,688.0 1074.3,686.5 1086.3,685.0 1098.4,683.4 1110.4,682.4 1120.5,679.0 1130.5,676.0 1140.6,671.4 1148.6,667.4 1156.6,660.3 1164.7,652.3 1172.7,645.3 1180.7,638.3 1188.8,631.2 1198.8,625.2 1208.8,619.2 1216.9,616.2 1229.0,615.6 1241.0,616.2 1253.0,616.2 1265.0,615.6 1277.0,614.2 1289.2,612.5 1301.2,612.5 1313.3,614.2 1321.3,616.2 1330.0,624.2 1340.2,632.2 1350.2,642.3 1360.3,649.3 1370.3,657.9 1380.3,658.7 1390.4,661.4 1396.4,663.4 1404.4,663.4 1412.5,660.7 1418.5,658.3" fill="none" stroke="#ff0000" stroke-width="1" stroke-dasharray="3 3"/>
</g>
<g clip-path="url(#c3)">
<path d="M0 789.5H1646" stroke="#c0c0c0" stroke-width="1" stroke-dasharray="3 3"/>
<path d="M0 840.5H1646" stroke="#c0c0c0" stroke-width="1" stroke-dasharray="3 3"/>
<path d="M0 901.5H1646" stroke="#c0c0c0" stroke-width="1" stroke-dasharray="3 3"/>
<polyline points="-5.0,860.0 3.0,850.0 11.0,852.4 19.0,855.4 27.0,848.4 35.0,851.4 43.0,847.4 51.0,862.5 59.0,862.5 67.0,857.5 75.0,858.5 83.0,861.5 91.0,860.0 99.0,837.4 107.0,834.4 115.0,836.4 123.0,827.3 131.0,815.3 139.0,817.3 147.0,827.3 155.0,832.3 163.0,830.3 171.0,825.3 179.0,820.3 187.0,825.3 195.0,818.3 203.0,812.3 211.0,809.9 219.0,803.2 227.0,802.2 235.0,807.2 243.0,811.3 251.0,809.2 259.0,808.2 267.0,807.2 275.0,807.2 283.0,814.3 291.0,814.3 299.0,839.4 307.0,839.4 315.0,841.4 323.0,847.4 331.0,848.4 339.0,851.4 347.0,863.0 355.0,859.0 363.0,848.4 371.0,860.0 379.0,866.0 387.0,855.4 395.0,854.0 403.0,846.4 411.0,854.8 419.0,858.5 427.0,863.5 435.0,863.5 443.0,863.5 451.0,860.0 459.0,870.5 467.0,843.4 475.0,846.4 483.0,835.4 491.0,832.3 499.0,831.3 507.0,834.4 515.0,829.3 523.0,820.3 531.0,820.3 539.0,825.3 547.0,822.3 555.0,840.4 563.0,838.4 571.0,856.0 579.0,850.0 587.0,851.4 595.0,852.4 603.0,860.0 611.0,864.5 619.0,861.0 627.0,857.5 635.0,856.0 643.0,854.4 651.0,873.0 659.0,877.5 667.0,879.5 675.0,883.6 683.0,887.2 691.0,888.2 699.0,870.5 707.0,875.0 715.0,869.0 723.0,867.0 731.0,871.0 739.0,861.5 747.0,870.0 755.0,873.0 763.0,857.5 771.0,843.4 779.0,846.4 787.0,843.4 795.0,836.4 803.0,838.0 811.0,840.0 819.0,845.4 827.0,835.4 835.0,844.4 843.0,855.0 851.0,857.0 859.0,853.4 867.0,861.5 875.0,866.0 883.0,855.4 891.0,864.0 899.0,865.5 907.0,871.0 915.0,873.5 923.0,868.5 931.0,867.0 939.0,860.5 947.0,857.0 955.0,855.0 963.0,852.0 971.0,849.4 979.0,850.4 987.0,843.4 995.0,856.0 1003.0,857.5 1011.0,852.4 1019.0,851.0 1027.0,836.4 1035.0,845.4 1043.0,844.4 1051.0,846.4 1059.0,842.4 1067.0,851.4 1075.0,860.0 1083.0,863.5 1091.0,853.4 1099.0,836.0 1107.0,830.3 1115.0,822.3 1123.0,823.3 1131.0,818.7 1139.0,824.3 1147.0,809.2 1155.0,806.2 1163.0,804.2 1171.0,803.2 1179.0,818.3 1187.0,812.7 1195.0,820.3 1203.0,823.3 1211.0,823.3 1219.0,831.3 1227.0,828.3 1235.0,830.3 1243.0,808.2 1251.0,803.2 1259.0,814.3 1267.0,811.3 1275.0,820.0 1283.0,822.3 1291.0,837.0 1299.0,840.4 1307.0,839.0 1315.0,837.4 1323.0,859.5 1331.0,853.4 1339.0,859.5 1347.0,863.5 1355.0,847.4 1363.0,830.3 1371.0,827.3 1379.0,830.3 1387.0,830.3 1395.0,839.4 1403.0,835.4 1411.0,822.3 1419.0,822.3" fill="none" stroke="#1e90ff" stroke-width="1" />
</g>
<g shape-rendering="auto">
<rect x="1647" y="48" width="2" height="1" fill="#000" shape-rendering="crispEdges"/>
<g transform="translate(1652.1,52.2) scale(0.915,0.9)"><text font-size="10" fill="#000" stroke="#000" stroke-width="0.12" >26283.5</text></g>
<rect x="1647" y="81" width="2" height="1" fill="#000" shape-rendering="crispEdges"/>
<g transform="translate(1652.1,85.1) scale(0.915,0.9)"><text font-size="10" fill="#000" stroke="#000" stroke-width="0.12" >26056.0</text></g>
<rect x="1647" y="114" width="2" height="1" fill="#000" shape-rendering="crispEdges"/>
<g transform="translate(1652.1,118.1) scale(0.915,0.9)"><text font-size="10" fill="#000" stroke="#000" stroke-width="0.12" >25822.0</text></g>
<rect x="1647" y="147" width="2" height="1" fill="#000" shape-rendering="crispEdges"/>
<g transform="translate(1652.1,151.1) scale(0.915,0.9)"><text font-size="10" fill="#000" stroke="#000" stroke-width="0.12" >25594.5</text></g>
<rect x="1647" y="180" width="2" height="1" fill="#000" shape-rendering="crispEdges"/>
<g transform="translate(1652.1,184.0) scale(0.915,0.9)"><text font-size="10" fill="#000" stroke="#000" stroke-width="0.12" >25360.5</text></g>
<rect x="1647" y="213" width="2" height="1" fill="#000" shape-rendering="crispEdges"/>
<g transform="translate(1652.1,217.0) scale(0.915,0.9)"><text font-size="10" fill="#000" stroke="#000" stroke-width="0.12" >25126.5</text></g>
<rect x="1647" y="246" width="2" height="1" fill="#000" shape-rendering="crispEdges"/>
<g transform="translate(1652.1,250.3) scale(0.915,0.9)"><text font-size="10" fill="#000" stroke="#000" stroke-width="0.12" >24899.0</text></g>
<rect x="1647" y="279" width="2" height="1" fill="#000" shape-rendering="crispEdges"/>
<g transform="translate(1652.1,283.2) scale(0.915,0.9)"><text font-size="10" fill="#000" stroke="#000" stroke-width="0.12" >24665.0</text></g>
<rect x="1647" y="312" width="2" height="1" fill="#000" shape-rendering="crispEdges"/>
<g transform="translate(1652.1,316.2) scale(0.915,0.9)"><text font-size="10" fill="#000" stroke="#000" stroke-width="0.12" >24437.5</text></g>
<rect x="1647" y="345" width="2" height="1" fill="#000" shape-rendering="crispEdges"/>
<g transform="translate(1652.1,349.0) scale(0.915,0.9)"><text font-size="10" fill="#000" stroke="#000" stroke-width="0.12" >24203.5</text></g>
<rect x="1647" y="378" width="2" height="1" fill="#000" shape-rendering="crispEdges"/>
<g transform="translate(1652.1,381.9) scale(0.915,0.9)"><text font-size="10" fill="#000" stroke="#000" stroke-width="0.12" >23976.0</text></g>
<rect x="1647" y="411" width="2" height="1" fill="#000" shape-rendering="crispEdges"/>
<g transform="translate(1652.1,415.1) scale(0.915,0.9)"><text font-size="10" fill="#000" stroke="#000" stroke-width="0.12" >23742.0</text></g>
<rect x="1647" y="444" width="2" height="1" fill="#000" shape-rendering="crispEdges"/>
<g transform="translate(1652.1,448.0) scale(0.915,0.9)"><text font-size="10" fill="#000" stroke="#000" stroke-width="0.12" >23514.5</text></g>
<rect x="1647" y="477" width="2" height="1" fill="#000" shape-rendering="crispEdges"/>
<g transform="translate(1652.1,481.0) scale(0.915,0.9)"><text font-size="10" fill="#000" stroke="#000" stroke-width="0.12" >23280.5</text></g>
<rect x="1647" y="510" width="2" height="1" fill="#000" shape-rendering="crispEdges"/>
<g transform="translate(1652.1,513.7) scale(0.915,0.9)"><text font-size="10" fill="#000" stroke="#000" stroke-width="0.12" >23053.0</text></g>
<rect x="1647" y="543" width="2" height="1" fill="#000" shape-rendering="crispEdges"/>
<g transform="translate(1652.1,547.0) scale(0.915,0.9)"><text font-size="10" fill="#000" stroke="#000" stroke-width="0.12" >22819.0</text></g>
<rect x="1647" y="576" width="2" height="1" fill="#000" shape-rendering="crispEdges"/>
<g transform="translate(1652.1,579.9) scale(0.915,0.9)"><text font-size="10" fill="#000" stroke="#000" stroke-width="0.12" >22591.5</text></g>
<g transform="translate(1649.6,591.9) scale(0.915,0.9)"><text font-size="10" fill="#000" stroke="#000" stroke-width="0.12" >431.22</text></g>
<g transform="translate(1649.6,669.0) scale(0.915,0.9)"><text font-size="10" fill="#000" stroke="#000" stroke-width="0.12" >0.00</text></g>
<g transform="translate(1649.6,748.0) scale(0.915,0.9)"><text font-size="10" fill="#000" stroke="#000" stroke-width="0.12" >-449.78</text></g>
<g transform="translate(1649.6,763.5) scale(0.915,0.9)"><text font-size="10" fill="#000" stroke="#000" stroke-width="0.12" >100</text></g>
<g transform="translate(1649.6,793.0) scale(0.915,0.9)"><text font-size="10" fill="#000" stroke="#000" stroke-width="0.12" >80</text></g>
<g transform="translate(1649.6,844.0) scale(0.915,0.9)"><text font-size="10" fill="#000" stroke="#000" stroke-width="0.12" >50</text></g>
<g transform="translate(1649.6,905.0) scale(0.915,0.9)"><text font-size="10" fill="#000" stroke="#000" stroke-width="0.12" >15</text></g>
<g transform="translate(1649.6,924.0) scale(0.915,0.9)"><text font-size="10" fill="#000" stroke="#000" stroke-width="0.12" >0</text></g>
<rect x="1647" y="665" width="2" height="1" fill="#000" shape-rendering="crispEdges"/>
<rect x="1647" y="583" width="1" height="1" fill="#000" shape-rendering="crispEdges"/>
<rect x="1647" y="750" width="1" height="1" fill="#000" shape-rendering="crispEdges"/>
<rect x="1647" y="755" width="1" height="1" fill="#000" shape-rendering="crispEdges"/>
<rect x="1647" y="925" width="1" height="1" fill="#000" shape-rendering="crispEdges"/>
<rect x="1648" y="193" width="41" height="11" fill="#ff0000" shape-rendering="crispEdges"/>
<g transform="translate(1652.1,202.4) scale(0.915,0.9)"><text font-size="10" fill="#fff" stroke="#fff" stroke-width="0.12" >25226.5</text></g>
<rect x="1648" y="223" width="41" height="11" fill="#ff0000" shape-rendering="crispEdges"/>
<g transform="translate(1652.1,232.4) scale(0.915,0.9)"><text font-size="10" fill="#fff" stroke="#fff" stroke-width="0.12" >25016.9</text></g>
<rect x="1648" y="253" width="41" height="11" fill="#000" shape-rendering="crispEdges"/>
<g transform="translate(1652.1,262.4) scale(0.915,0.9)"><text font-size="10" fill="#fff" stroke="#fff" stroke-width="0.12" >24816.5</text></g>
<rect x="1648" y="258" width="41" height="11" fill="#32cd32" shape-rendering="crispEdges"/>
<g transform="translate(1652.1,267.4) scale(0.915,0.9)"><text font-size="10" fill="#fff" stroke="#fff" stroke-width="0.12" >24772.4</text></g>
<rect x="1648" y="285" width="41" height="11" fill="#0000ff" shape-rendering="crispEdges"/>
<g transform="translate(1652.1,294.4) scale(0.915,0.9)"><text font-size="10" fill="#fff" stroke="#fff" stroke-width="0.12" >24583.8</text></g>
<rect x="1648" y="312" width="41" height="11" fill="#0000ff" shape-rendering="crispEdges"/>
<g transform="translate(1652.1,321.4) scale(0.915,0.9)"><text font-size="10" fill="#fff" stroke="#fff" stroke-width="0.12" >24395.2</text></g>
<rect x="-13" y="928" width="1" height="3" fill="#000" shape-rendering="crispEdges"/>
<g transform="translate(-15.8,939.8) scale(0.936,0.9)"><text font-size="10" fill="#000" stroke="#000" stroke-width="0.12" >28 Sep 2021</text></g>
<rect x="51" y="928" width="1" height="3" fill="#000" shape-rendering="crispEdges"/>
<g transform="translate(50.2,939.8) scale(0.936,0.9)"><text font-size="10" fill="#000" stroke="#000" stroke-width="0.12" >4 Oct 01:15</text></g>
<rect x="115" y="928" width="1" height="3" fill="#000" shape-rendering="crispEdges"/>
<g transform="translate(114.2,939.8) scale(0.936,0.9)"><text font-size="10" fill="#000" stroke="#000" stroke-width="0.12" >8 Oct 01:15</text></g>
<rect x="179" y="928" width="1" height="3" fill="#000" shape-rendering="crispEdges"/>
<g transform="translate(178.2,939.8) scale(0.936,0.9)"><text font-size="10" fill="#000" stroke="#000" stroke-width="0.12" >15 Oct 05:00</text></g>
<rect x="243" y="928" width="1" height="3" fill="#000" shape-rendering="crispEdges"/>
<g transform="translate(242.2,939.8) scale(0.936,0.9)"><text font-size="10" fill="#000" stroke="#000" stroke-width="0.12" >21 Oct 05:00</text></g>
<rect x="307" y="928" width="1" height="3" fill="#000" shape-rendering="crispEdges"/>
<g transform="translate(306.2,939.8) scale(0.936,0.9)"><text font-size="10" fill="#000" stroke="#000" stroke-width="0.12" >27 Oct 05:00</text></g>
<rect x="371" y="928" width="1" height="3" fill="#000" shape-rendering="crispEdges"/>
<g transform="translate(370.2,939.8) scale(0.936,0.9)"><text font-size="10" fill="#000" stroke="#000" stroke-width="0.12" >2 Nov 05:00</text></g>
<rect x="435" y="928" width="1" height="3" fill="#000" shape-rendering="crispEdges"/>
<g transform="translate(434.2,939.8) scale(0.936,0.9)"><text font-size="10" fill="#000" stroke="#000" stroke-width="0.12" >8 Nov 05:00</text></g>
<rect x="499" y="928" width="1" height="3" fill="#000" shape-rendering="crispEdges"/>
<g transform="translate(498.2,939.8) scale(0.936,0.9)"><text font-size="10" fill="#000" stroke="#000" stroke-width="0.12" >12 Nov 05:00</text></g>
<rect x="563" y="928" width="1" height="3" fill="#000" shape-rendering="crispEdges"/>
<g transform="translate(562.2,939.8) scale(0.936,0.9)"><text font-size="10" fill="#000" stroke="#000" stroke-width="0.12" >18 Nov 05:00</text></g>
<rect x="627" y="928" width="1" height="3" fill="#000" shape-rendering="crispEdges"/>
<g transform="translate(626.2,939.8) scale(0.936,0.9)"><text font-size="10" fill="#000" stroke="#000" stroke-width="0.12" >24 Nov 05:00</text></g>
<rect x="691" y="928" width="1" height="3" fill="#000" shape-rendering="crispEdges"/>
<g transform="translate(690.2,939.8) scale(0.936,0.9)"><text font-size="10" fill="#000" stroke="#000" stroke-width="0.12" >30 Nov 05:00</text></g>
<rect x="755" y="928" width="1" height="3" fill="#000" shape-rendering="crispEdges"/>
<g transform="translate(754.2,939.8) scale(0.936,0.9)"><text font-size="10" fill="#000" stroke="#000" stroke-width="0.12" >6 Dec 05:00</text></g>
<rect x="819" y="928" width="1" height="3" fill="#000" shape-rendering="crispEdges"/>
<g transform="translate(818.2,939.8) scale(0.936,0.9)"><text font-size="10" fill="#000" stroke="#000" stroke-width="0.12" >10 Dec 05:00</text></g>
<rect x="883" y="928" width="1" height="3" fill="#000" shape-rendering="crispEdges"/>
<g transform="translate(882.2,939.8) scale(0.936,0.9)"><text font-size="10" fill="#000" stroke="#000" stroke-width="0.12" >16 Dec 05:00</text></g>
<rect x="947" y="928" width="1" height="3" fill="#000" shape-rendering="crispEdges"/>
<g transform="translate(946.2,939.8) scale(0.936,0.9)"><text font-size="10" fill="#000" stroke="#000" stroke-width="0.12" >22 Dec 05:00</text></g>
<rect x="1011" y="928" width="1" height="3" fill="#000" shape-rendering="crispEdges"/>
<g transform="translate(1010.2,939.8) scale(0.936,0.9)"><text font-size="10" fill="#000" stroke="#000" stroke-width="0.12" >30 Dec 01:15</text></g>
<rect x="1075" y="928" width="1" height="3" fill="#000" shape-rendering="crispEdges"/>
<g transform="translate(1074.2,939.8) scale(0.936,0.9)"><text font-size="10" fill="#000" stroke="#000" stroke-width="0.12" >5 Jan 05:00</text></g>
<rect x="1139" y="928" width="1" height="3" fill="#000" shape-rendering="crispEdges"/>
<g transform="translate(1138.2,939.8) scale(0.936,0.9)"><text font-size="10" fill="#000" stroke="#000" stroke-width="0.12" >11 Jan 05:00</text></g>
<rect x="1203" y="928" width="1" height="3" fill="#000" shape-rendering="crispEdges"/>
<g transform="translate(1202.2,939.8) scale(0.936,0.9)"><text font-size="10" fill="#000" stroke="#000" stroke-width="0.12" >17 Jan 05:00</text></g>
<rect x="1267" y="928" width="1" height="3" fill="#000" shape-rendering="crispEdges"/>
<g transform="translate(1266.2,939.8) scale(0.936,0.9)"><text font-size="10" fill="#000" stroke="#000" stroke-width="0.12" >21 Jan 05:00</text></g>
<rect x="1331" y="928" width="1" height="3" fill="#000" shape-rendering="crispEdges"/>
<g transform="translate(1330.2,939.8) scale(0.936,0.9)"><text font-size="10" fill="#000" stroke="#000" stroke-width="0.12" >27 Jan 05:00</text></g>
<rect x="1395" y="928" width="1" height="3" fill="#000" shape-rendering="crispEdges"/>
<g transform="translate(1394.2,939.8) scale(0.936,0.9)"><text font-size="10" fill="#000" stroke="#000" stroke-width="0.12" >8 Feb 01:15</text></g>
<g transform="translate(2.0,38.1) scale(1,0.9)"><text font-size="10" fill="#000" stroke="#000" stroke-width="0.12" textLength="188" lengthAdjust="spacingAndGlyphs">HK50-,H4&#160; 24829.5 24896.0 24741.0 24816.5</text></g>
<g transform="translate(-8.4,593.6) scale(0.947,0.9)"><text font-size="10" fill="#000" stroke="#000" stroke-width="0.12" >MACD(12,26,9) 134.61 41.77</text></g>
<g transform="translate(-7.4,765.6) scale(0.94,0.9)"><text font-size="10" fill="#000" stroke="#000" stroke-width="0.12" >RSI(14) 60.7111</text></g>
<g shape-rendering="crispEdges">
<rect x="691" y="503" width="12" height="1" fill="#ff0000"/>
<rect x="906" y="567" width="10" height="1" fill="#ff0000"/>
<rect x="1338" y="462" width="10" height="1" fill="#ff0000"/>
<rect x="1242" y="233" width="10" height="1" fill="#ff0000"/>
<rect x="1132" y="263" width="8" height="1" fill="#ff0000"/>
<rect x="1414" y="246" width="6" height="1" fill="#ff0000"/>
<rect x="1137.5" y="261.5" width="4" height="4" fill="#fff" stroke="#ff0000"/>
<rect x="1409.5" y="244.5" width="4" height="4" fill="#fff" stroke="#ff0000"/>
</g>
<rect x="702.5" y="494.5" width="61" height="18" fill="#fff" stroke="#ff0000" stroke-width="1" shape-rendering="crispEdges"/>
<text x="703.2" y="509.7" font-size="17.5" fill="#ff0000" textLength="59.5" lengthAdjust="spacingAndGlyphs">23109.9</text>
<rect x="844.5" y="559.5" width="61" height="17" fill="#fff" stroke="#ff0000" stroke-width="1" shape-rendering="crispEdges"/>
<text x="845.2" y="574.3" font-size="17.5" fill="#ff0000" textLength="59.5" lengthAdjust="spacingAndGlyphs">22655.0</text>
<rect x="1276.5" y="455.5" width="61" height="17" fill="#fff" stroke="#ff0000" stroke-width="1" shape-rendering="crispEdges"/>
<text x="1277.2" y="470.3" font-size="17.5" fill="#ff0000" textLength="59.5" lengthAdjust="spacingAndGlyphs">23382.3</text>
<rect x="1180.5" y="225.5" width="61" height="17" fill="#fff" stroke="#ff0000" stroke-width="1" shape-rendering="crispEdges"/>
<text x="1181.2" y="240.3" font-size="17.5" fill="#ff0000" textLength="59.5" lengthAdjust="spacingAndGlyphs">24989.0</text>
<rect x="1348.5" y="238.5" width="61" height="16" fill="#fff" stroke="#ff0000" stroke-width="1" shape-rendering="crispEdges"/>
<text x="1349.2" y="252.3" font-size="17.5" fill="#ff0000" textLength="59.5" lengthAdjust="spacingAndGlyphs">24898.2</text>
<rect x="1142.5" y="252.5" width="73" height="24" fill="#fff" stroke="#ff0000" stroke-width="1" shape-rendering="crispEdges"/>
<text x="1142.6" y="273.1" font-size="23.2" fill="#ff0000" textLength="72.8" lengthAdjust="spacingAndGlyphs">24772.4</text>
<polyline points="1347.6,462.6 1369,294.5 1401.5,349 1427,248" fill="none" stroke="#ff0000" stroke-width="2.9" stroke-linejoin="miter"/>
<polygon points="1369.2,293.0 1372.3,306.5 1362.8,305.3" fill="#ff0000"/>
<polygon points="1402.3,350.3 1391.5,341.6 1399.7,336.7" fill="#ff0000"/>
<polygon points="1427.4,246.5 1428.8,260.3 1419.5,258.0" fill="#ff0000"/>
<polyline points="1351.8,675.8 1422.5,644.5" fill="none" stroke="#ff0000" stroke-width="2.9" stroke-linejoin="miter"/>
<polygon points="1423.9,643.9 1413.9,653.5 1410.0,644.8" fill="#ff0000"/>
<polyline points="1318.7,858.9 1422.5,824.8" fill="none" stroke="#ff0000" stroke-width="2.9" stroke-linejoin="miter"/>
<polygon points="1423.9,824.3 1413.1,832.9 1410.1,823.8" fill="#ff0000"/>
</g>
</svg>
<div id="tp">
<div class="btn" style="left:0;width:42px;"><span style="position:absolute;left:2.5px;transform-origin:0 50%;transform:scaleX(0.87)">SELL</span></div>
<div class="btn" style="left:157px;width:52px;"><span style="position:absolute;left:14px">BUY</span></div>
<div style="position:absolute;left:44px;top:0;width:110px;height:19px;background:#fff;border:1px solid #a8a8a8;box-shadow:0 1px 0 #d0d0d0"></div>
<div style="position:absolute;left:46px;top:2px;width:18px;height:17px;background:linear-gradient(#e6e6e6,#c6c6c6);border-right:1px solid #b0b0b0"></div>
<div style="position:absolute;left:134px;top:2px;width:19px;height:17px;background:linear-gradient(#e6e6e6,#c6c6c6);border-left:1px solid #b0b0b0"></div>
<div style="position:absolute;left:52px;top:9.5px;width:0;height:0;border-left:3px solid transparent;border-right:3px solid transparent;border-top:3.4px solid #4a5ab8"></div>
<div style="position:absolute;left:141px;top:9px;width:0;height:0;border-left:3px solid transparent;border-right:3px solid transparent;border-bottom:3.4px solid #4a5ab8"></div>
<div style="position:absolute;left:70px;top:3px;width:59.5px;text-align:right;font-size:12.5px;line-height:16px;color:#222">1.00</div>
<div class="px" style="left:0;width:99px;"><b style="left:6px">24815</b><i style="left:43.3px">.0</i></div>
<div class="px" style="left:101px;width:108px;"><b style="left:15.5px">24828</b><i style="left:54px">.0</i></div>
<div style="position:absolute;left:0;top:24px;width:38px;height:1px;background:#9a9af8"></div>
<div style="position:absolute;left:161px;top:24px;width:44px;height:1px;background:#9a9af8"></div>
<div style="position:absolute;left:25px;top:26px;width:3px;height:3px;background:#e8d060;transform:rotate(45deg) scale(0.7)"></div>
</div>
</body></html>
